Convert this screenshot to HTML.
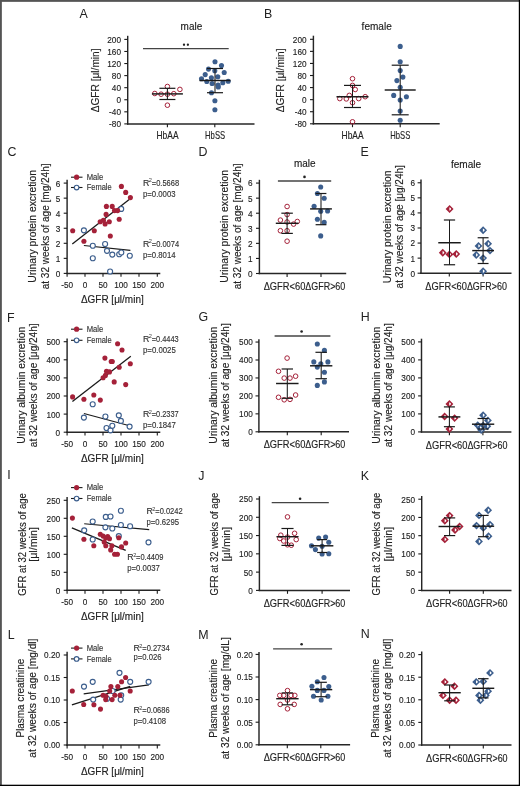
<!DOCTYPE html>
<html><head><meta charset="utf-8"><style>
html,body{margin:0;padding:0;background:#fff;width:520px;height:786px;overflow:hidden}
svg{display:block;will-change:transform;font-family:"Liberation Sans", sans-serif}
</style></head><body>
<svg width="520" height="786" viewBox="0 0 520 786">
<rect x="0" y="0" width="520" height="786" fill="#fff"/>
<text x="79.6" y="18.3" font-size="12.4" text-anchor="start" fill="#222">A</text>
<text x="191.4" y="29.7" font-size="10" text-anchor="middle" fill="#222" stroke="#222" stroke-width="0.14" textLength="21.6" lengthAdjust="spacingAndGlyphs">male</text>
<line x1="127.7" y1="35.8" x2="127.7" y2="124.6" stroke="#262626" stroke-width="1.45"/>
<line x1="124.3" y1="39.4" x2="127.7" y2="39.4" stroke="#1a1a1a" stroke-width="1.1"/>
<text x="121" y="42.8" font-size="9.8" text-anchor="end" fill="#222" stroke="#222" stroke-width="0.14" textLength="13.73" lengthAdjust="spacingAndGlyphs">200</text>
<line x1="124.3" y1="51.47" x2="127.7" y2="51.47" stroke="#1a1a1a" stroke-width="1.1"/>
<text x="121" y="54.87" font-size="9.8" text-anchor="end" fill="#222" stroke="#222" stroke-width="0.14" textLength="13.73" lengthAdjust="spacingAndGlyphs">160</text>
<line x1="124.3" y1="63.54" x2="127.7" y2="63.54" stroke="#1a1a1a" stroke-width="1.1"/>
<text x="121" y="66.94" font-size="9.8" text-anchor="end" fill="#222" stroke="#222" stroke-width="0.14" textLength="13.73" lengthAdjust="spacingAndGlyphs">120</text>
<line x1="124.3" y1="75.61" x2="127.7" y2="75.61" stroke="#1a1a1a" stroke-width="1.1"/>
<text x="121" y="79.01" font-size="9.8" text-anchor="end" fill="#222" stroke="#222" stroke-width="0.14" textLength="9.16" lengthAdjust="spacingAndGlyphs">80</text>
<line x1="124.3" y1="87.68" x2="127.7" y2="87.68" stroke="#1a1a1a" stroke-width="1.1"/>
<text x="121" y="91.08" font-size="9.8" text-anchor="end" fill="#222" stroke="#222" stroke-width="0.14" textLength="9.16" lengthAdjust="spacingAndGlyphs">40</text>
<line x1="124.3" y1="99.75" x2="127.7" y2="99.75" stroke="#1a1a1a" stroke-width="1.1"/>
<text x="121" y="103.15" font-size="9.8" text-anchor="end" fill="#222" stroke="#222" stroke-width="0.14" textLength="4.58" lengthAdjust="spacingAndGlyphs">0</text>
<line x1="124.3" y1="111.82" x2="127.7" y2="111.82" stroke="#1a1a1a" stroke-width="1.1"/>
<text x="121" y="115.22" font-size="9.8" text-anchor="end" fill="#222" stroke="#222" stroke-width="0.14" textLength="11.9" lengthAdjust="spacingAndGlyphs">-40</text>
<line x1="124.3" y1="123.89" x2="127.7" y2="123.89" stroke="#1a1a1a" stroke-width="1.1"/>
<text x="121" y="127.29" font-size="9.8" text-anchor="end" fill="#222" stroke="#222" stroke-width="0.14" textLength="11.9" lengthAdjust="spacingAndGlyphs">-80</text>
<line x1="127" y1="123.9" x2="254.5" y2="123.9" stroke="#262626" stroke-width="1.45"/>
<line x1="167.4" y1="123.9" x2="167.4" y2="127.3" stroke="#1a1a1a" stroke-width="1.1"/>
<line x1="214.8" y1="123.9" x2="214.8" y2="127.3" stroke="#1a1a1a" stroke-width="1.1"/>
<text x="167.5" y="138.8" font-size="10.3" text-anchor="middle" fill="#222" stroke="#222" stroke-width="0.14" textLength="22" lengthAdjust="spacingAndGlyphs">HbAA</text>
<text x="215.1" y="138.8" font-size="10.3" text-anchor="middle" fill="#222" stroke="#222" stroke-width="0.14" textLength="20" lengthAdjust="spacingAndGlyphs">HbSS</text>
<text transform="translate(98.6,80.4) rotate(-90)" font-size="10" text-anchor="middle" fill="#222" stroke="#222" stroke-width="0.14" textLength="63.8" lengthAdjust="spacingAndGlyphs">ΔGFR [μl/min]</text>
<line x1="143" y1="48.7" x2="228.7" y2="48.7" stroke="#444" stroke-width="1.3"/>
<circle cx="184" cy="44.75" r="1.15" fill="#222"/>
<circle cx="187.9" cy="44.75" r="1.15" fill="#222"/>
<circle cx="154.8" cy="93.5" r="2.3" fill="none" stroke="#a52139" stroke-width="1"/>
<circle cx="161.1" cy="94.2" r="2.3" fill="none" stroke="#a52139" stroke-width="1"/>
<circle cx="167.4" cy="86.5" r="2.3" fill="none" stroke="#a52139" stroke-width="1"/>
<circle cx="167.4" cy="94.2" r="2.3" fill="none" stroke="#a52139" stroke-width="1"/>
<circle cx="173.8" cy="93.7" r="2.3" fill="none" stroke="#a52139" stroke-width="1"/>
<circle cx="179.9" cy="89.4" r="2.3" fill="none" stroke="#a52139" stroke-width="1"/>
<circle cx="167.4" cy="105.2" r="2.3" fill="none" stroke="#a52139" stroke-width="1"/>
<line x1="167.4" y1="88.3" x2="167.4" y2="99.5" stroke="#1a1a1a" stroke-width="1.05"/>
<line x1="151.9" y1="93.9" x2="182.9" y2="93.9" stroke="#1a1a1a" stroke-width="1.45"/>
<line x1="159.4" y1="88.3" x2="175.4" y2="88.3" stroke="#1a1a1a" stroke-width="1.2"/>
<line x1="159.4" y1="99.5" x2="175.4" y2="99.5" stroke="#1a1a1a" stroke-width="1.2"/>
<circle cx="215" cy="61.7" r="2.55" fill="#3c5e8d"/>
<circle cx="221.5" cy="65.5" r="2.55" fill="#3c5e8d"/>
<circle cx="208.5" cy="69.1" r="2.55" fill="#3c5e8d"/>
<circle cx="214.8" cy="70.8" r="2.55" fill="#3c5e8d"/>
<circle cx="224.2" cy="72.5" r="2.55" fill="#3c5e8d"/>
<circle cx="205.2" cy="74.6" r="2.55" fill="#3c5e8d"/>
<circle cx="211.4" cy="77.7" r="2.55" fill="#3c5e8d"/>
<circle cx="217.8" cy="76.8" r="2.55" fill="#3c5e8d"/>
<circle cx="201.5" cy="78.8" r="2.55" fill="#3c5e8d"/>
<circle cx="206.8" cy="81.5" r="2.55" fill="#3c5e8d"/>
<circle cx="212.1" cy="83.5" r="2.55" fill="#3c5e8d"/>
<circle cx="218.1" cy="85" r="2.55" fill="#3c5e8d"/>
<circle cx="222.8" cy="82.7" r="2.55" fill="#3c5e8d"/>
<circle cx="228.2" cy="81.2" r="2.55" fill="#3c5e8d"/>
<circle cx="218.3" cy="87" r="2.55" fill="#3c5e8d"/>
<circle cx="211.5" cy="92.7" r="2.55" fill="#3c5e8d"/>
<circle cx="214.9" cy="100.7" r="2.55" fill="#3c5e8d"/>
<circle cx="214.9" cy="109.8" r="2.55" fill="#3c5e8d"/>
<line x1="215" y1="68.5" x2="215" y2="92.7" stroke="#1a1a1a" stroke-width="1.05"/>
<line x1="199.5" y1="80.5" x2="230.5" y2="80.5" stroke="#1a1a1a" stroke-width="1.45"/>
<line x1="207" y1="68.5" x2="223" y2="68.5" stroke="#1a1a1a" stroke-width="1.2"/>
<line x1="207" y1="92.7" x2="223" y2="92.7" stroke="#1a1a1a" stroke-width="1.2"/>
<text x="264" y="17.9" font-size="12.4" text-anchor="start" fill="#222">B</text>
<text x="376.7" y="30.3" font-size="10" text-anchor="middle" fill="#222" stroke="#222" stroke-width="0.14" textLength="30.2" lengthAdjust="spacingAndGlyphs">female</text>
<line x1="313.4" y1="35.7" x2="313.4" y2="124.5" stroke="#262626" stroke-width="1.45"/>
<line x1="310" y1="39.3" x2="313.4" y2="39.3" stroke="#1a1a1a" stroke-width="1.1"/>
<text x="306.6" y="42.7" font-size="9.8" text-anchor="end" fill="#222" stroke="#222" stroke-width="0.14" textLength="13.73" lengthAdjust="spacingAndGlyphs">200</text>
<line x1="310" y1="51.37" x2="313.4" y2="51.37" stroke="#1a1a1a" stroke-width="1.1"/>
<text x="306.6" y="54.77" font-size="9.8" text-anchor="end" fill="#222" stroke="#222" stroke-width="0.14" textLength="13.73" lengthAdjust="spacingAndGlyphs">160</text>
<line x1="310" y1="63.44" x2="313.4" y2="63.44" stroke="#1a1a1a" stroke-width="1.1"/>
<text x="306.6" y="66.84" font-size="9.8" text-anchor="end" fill="#222" stroke="#222" stroke-width="0.14" textLength="13.73" lengthAdjust="spacingAndGlyphs">120</text>
<line x1="310" y1="75.51" x2="313.4" y2="75.51" stroke="#1a1a1a" stroke-width="1.1"/>
<text x="306.6" y="78.91" font-size="9.8" text-anchor="end" fill="#222" stroke="#222" stroke-width="0.14" textLength="9.16" lengthAdjust="spacingAndGlyphs">80</text>
<line x1="310" y1="87.58" x2="313.4" y2="87.58" stroke="#1a1a1a" stroke-width="1.1"/>
<text x="306.6" y="90.98" font-size="9.8" text-anchor="end" fill="#222" stroke="#222" stroke-width="0.14" textLength="9.16" lengthAdjust="spacingAndGlyphs">40</text>
<line x1="310" y1="99.65" x2="313.4" y2="99.65" stroke="#1a1a1a" stroke-width="1.1"/>
<text x="306.6" y="103.05" font-size="9.8" text-anchor="end" fill="#222" stroke="#222" stroke-width="0.14" textLength="4.58" lengthAdjust="spacingAndGlyphs">0</text>
<line x1="310" y1="111.72" x2="313.4" y2="111.72" stroke="#1a1a1a" stroke-width="1.1"/>
<text x="306.6" y="115.12" font-size="9.8" text-anchor="end" fill="#222" stroke="#222" stroke-width="0.14" textLength="11.9" lengthAdjust="spacingAndGlyphs">-40</text>
<line x1="310" y1="123.79" x2="313.4" y2="123.79" stroke="#1a1a1a" stroke-width="1.1"/>
<text x="306.6" y="127.19" font-size="9.8" text-anchor="end" fill="#222" stroke="#222" stroke-width="0.14" textLength="11.9" lengthAdjust="spacingAndGlyphs">-80</text>
<line x1="312.7" y1="123.8" x2="439.7" y2="123.8" stroke="#262626" stroke-width="1.45"/>
<line x1="352.5" y1="123.8" x2="352.5" y2="127.2" stroke="#1a1a1a" stroke-width="1.1"/>
<line x1="400.2" y1="123.8" x2="400.2" y2="127.2" stroke="#1a1a1a" stroke-width="1.1"/>
<text x="352.6" y="138.8" font-size="10.3" text-anchor="middle" fill="#222" stroke="#222" stroke-width="0.14" textLength="22" lengthAdjust="spacingAndGlyphs">HbAA</text>
<text x="400.3" y="138.8" font-size="10.3" text-anchor="middle" fill="#222" stroke="#222" stroke-width="0.14" textLength="20" lengthAdjust="spacingAndGlyphs">HbSS</text>
<text transform="translate(284.3,80.4) rotate(-90)" font-size="10" text-anchor="middle" fill="#222" stroke="#222" stroke-width="0.14" textLength="63.8" lengthAdjust="spacingAndGlyphs">ΔGFR [μl/min]</text>
<circle cx="352.5" cy="78.7" r="2.3" fill="none" stroke="#a52139" stroke-width="1"/>
<circle cx="352.5" cy="85.4" r="2.3" fill="none" stroke="#a52139" stroke-width="1"/>
<circle cx="355.2" cy="89.5" r="2.3" fill="none" stroke="#a52139" stroke-width="1"/>
<circle cx="349.3" cy="95.4" r="2.3" fill="none" stroke="#a52139" stroke-width="1"/>
<circle cx="339.8" cy="98.6" r="2.3" fill="none" stroke="#a52139" stroke-width="1"/>
<circle cx="346.3" cy="98.9" r="2.3" fill="none" stroke="#a52139" stroke-width="1"/>
<circle cx="358.7" cy="98.6" r="2.3" fill="none" stroke="#a52139" stroke-width="1"/>
<circle cx="365.2" cy="96.7" r="2.3" fill="none" stroke="#a52139" stroke-width="1"/>
<circle cx="352.5" cy="102.7" r="2.3" fill="none" stroke="#a52139" stroke-width="1"/>
<circle cx="352.5" cy="121.8" r="2.3" fill="none" stroke="#a52139" stroke-width="1"/>
<line x1="352.5" y1="85.4" x2="352.5" y2="107.5" stroke="#1a1a1a" stroke-width="1.05"/>
<line x1="336.5" y1="96.7" x2="368.5" y2="96.7" stroke="#1a1a1a" stroke-width="1.45"/>
<line x1="344" y1="85.4" x2="361" y2="85.4" stroke="#1a1a1a" stroke-width="1.2"/>
<line x1="344" y1="107.5" x2="361" y2="107.5" stroke="#1a1a1a" stroke-width="1.2"/>
<circle cx="400.2" cy="46.4" r="2.55" fill="#3c5e8d"/>
<circle cx="400.2" cy="61.7" r="2.55" fill="#3c5e8d"/>
<circle cx="400.2" cy="70.6" r="2.55" fill="#3c5e8d"/>
<circle cx="402.9" cy="77.1" r="2.55" fill="#3c5e8d"/>
<circle cx="396.9" cy="80.6" r="2.55" fill="#3c5e8d"/>
<circle cx="400.2" cy="87.3" r="2.55" fill="#3c5e8d"/>
<circle cx="393.7" cy="95.4" r="2.55" fill="#3c5e8d"/>
<circle cx="406.4" cy="96.7" r="2.55" fill="#3c5e8d"/>
<circle cx="400.2" cy="100" r="2.55" fill="#3c5e8d"/>
<circle cx="400.2" cy="111" r="2.55" fill="#3c5e8d"/>
<circle cx="400.2" cy="120.2" r="2.55" fill="#3c5e8d"/>
<line x1="400.2" y1="65.2" x2="400.2" y2="114.8" stroke="#1a1a1a" stroke-width="1.05"/>
<line x1="384.7" y1="90" x2="415.7" y2="90" stroke="#1a1a1a" stroke-width="1.45"/>
<line x1="391.7" y1="65.2" x2="408.7" y2="65.2" stroke="#1a1a1a" stroke-width="1.2"/>
<line x1="391.7" y1="114.8" x2="408.7" y2="114.8" stroke="#1a1a1a" stroke-width="1.2"/>
<text x="7.4" y="156.2" font-size="12.4" text-anchor="start" fill="#222">C</text>
<line x1="67.1" y1="179.8" x2="67.1" y2="274.1" stroke="#262626" stroke-width="1.45"/>
<line x1="63.7" y1="183.1" x2="67.1" y2="183.1" stroke="#1a1a1a" stroke-width="1.1"/>
<text x="60.3" y="186.5" font-size="9.8" text-anchor="end" fill="#222" stroke="#222" stroke-width="0.14" textLength="4.58" lengthAdjust="spacingAndGlyphs">6</text>
<line x1="63.7" y1="198.15" x2="67.1" y2="198.15" stroke="#1a1a1a" stroke-width="1.1"/>
<text x="60.3" y="201.55" font-size="9.8" text-anchor="end" fill="#222" stroke="#222" stroke-width="0.14" textLength="4.58" lengthAdjust="spacingAndGlyphs">5</text>
<line x1="63.7" y1="213.2" x2="67.1" y2="213.2" stroke="#1a1a1a" stroke-width="1.1"/>
<text x="60.3" y="216.6" font-size="9.8" text-anchor="end" fill="#222" stroke="#222" stroke-width="0.14" textLength="4.58" lengthAdjust="spacingAndGlyphs">4</text>
<line x1="63.7" y1="228.25" x2="67.1" y2="228.25" stroke="#1a1a1a" stroke-width="1.1"/>
<text x="60.3" y="231.65" font-size="9.8" text-anchor="end" fill="#222" stroke="#222" stroke-width="0.14" textLength="4.58" lengthAdjust="spacingAndGlyphs">3</text>
<line x1="63.7" y1="243.3" x2="67.1" y2="243.3" stroke="#1a1a1a" stroke-width="1.1"/>
<text x="60.3" y="246.7" font-size="9.8" text-anchor="end" fill="#222" stroke="#222" stroke-width="0.14" textLength="4.58" lengthAdjust="spacingAndGlyphs">2</text>
<line x1="63.7" y1="258.35" x2="67.1" y2="258.35" stroke="#1a1a1a" stroke-width="1.1"/>
<text x="60.3" y="261.75" font-size="9.8" text-anchor="end" fill="#222" stroke="#222" stroke-width="0.14" textLength="4.58" lengthAdjust="spacingAndGlyphs">1</text>
<line x1="63.7" y1="273.4" x2="67.1" y2="273.4" stroke="#1a1a1a" stroke-width="1.1"/>
<text x="60.3" y="276.8" font-size="9.8" text-anchor="end" fill="#222" stroke="#222" stroke-width="0.14" textLength="4.58" lengthAdjust="spacingAndGlyphs">0</text>
<line x1="66.4" y1="273.4" x2="160.3" y2="273.4" stroke="#262626" stroke-width="1.45"/>
<line x1="67.1" y1="273.4" x2="67.1" y2="276.8" stroke="#1a1a1a" stroke-width="1.1"/>
<text x="67.1" y="287.9" font-size="9.8" text-anchor="middle" fill="#222" stroke="#222" stroke-width="0.14" textLength="11.9" lengthAdjust="spacingAndGlyphs">-50</text>
<line x1="85" y1="273.4" x2="85" y2="276.8" stroke="#1a1a1a" stroke-width="1.1"/>
<text x="85" y="287.9" font-size="9.8" text-anchor="middle" fill="#222" stroke="#222" stroke-width="0.14" textLength="4.58" lengthAdjust="spacingAndGlyphs">0</text>
<line x1="103" y1="273.4" x2="103" y2="276.8" stroke="#1a1a1a" stroke-width="1.1"/>
<text x="103" y="287.9" font-size="9.8" text-anchor="middle" fill="#222" stroke="#222" stroke-width="0.14" textLength="9.16" lengthAdjust="spacingAndGlyphs">50</text>
<line x1="121" y1="273.4" x2="121" y2="276.8" stroke="#1a1a1a" stroke-width="1.1"/>
<text x="121" y="287.9" font-size="9.8" text-anchor="middle" fill="#222" stroke="#222" stroke-width="0.14" textLength="13.73" lengthAdjust="spacingAndGlyphs">100</text>
<line x1="139" y1="273.4" x2="139" y2="276.8" stroke="#1a1a1a" stroke-width="1.1"/>
<text x="139" y="287.9" font-size="9.8" text-anchor="middle" fill="#222" stroke="#222" stroke-width="0.14" textLength="13.73" lengthAdjust="spacingAndGlyphs">150</text>
<line x1="157.3" y1="273.4" x2="157.3" y2="276.8" stroke="#1a1a1a" stroke-width="1.1"/>
<text x="157.3" y="287.9" font-size="9.8" text-anchor="middle" fill="#222" stroke="#222" stroke-width="0.14" textLength="13.73" lengthAdjust="spacingAndGlyphs">200</text>
<text x="112.3" y="303.2" font-size="10" text-anchor="middle" fill="#222" stroke="#222" stroke-width="0.14" textLength="62.8" lengthAdjust="spacingAndGlyphs">ΔGFR [μl/min]</text>
<text transform="translate(36.4,226.4) rotate(-90)" font-size="10.5" text-anchor="middle" fill="#222" stroke="#222" stroke-width="0.14" textLength="112.6" lengthAdjust="spacingAndGlyphs">Urinary protein excretion</text>
<text transform="translate(49,226.4) rotate(-90)" font-size="10.5" text-anchor="middle" fill="#222" stroke="#222" stroke-width="0.14" textLength="125.8" lengthAdjust="spacingAndGlyphs">at 32 weeks of age [mg/24h]</text>
<line x1="71" y1="177.2" x2="82.5" y2="177.2" stroke="#1a1a1a" stroke-width="1.1"/>
<circle cx="76.6" cy="177.2" r="2.6" fill="#a52139"/>
<text x="86.7" y="179.6" font-size="8.9" text-anchor="start" fill="#333" stroke="#333" stroke-width="0.14" textLength="16.6" lengthAdjust="spacingAndGlyphs">Male</text>
<line x1="71" y1="187.5" x2="82.5" y2="187.5" stroke="#1a1a1a" stroke-width="1.1"/>
<circle cx="76.6" cy="187.5" r="2.3" fill="#fff" stroke="#3c5e8d" stroke-width="1.15"/>
<text x="86.7" y="190.3" font-size="8.9" text-anchor="start" fill="#333" stroke="#333" stroke-width="0.14" textLength="25" lengthAdjust="spacingAndGlyphs">Female</text>
<line x1="72.3" y1="244" x2="129.2" y2="199.6" stroke="#1a1a1a" stroke-width="1.3"/>
<line x1="83.9" y1="245.5" x2="130.4" y2="250.4" stroke="#1a1a1a" stroke-width="1.1"/>
<circle cx="83.9" cy="230.3" r="2.5" fill="#fff" stroke="#3c5e8d" stroke-width="1.15"/>
<circle cx="92.8" cy="245.7" r="2.5" fill="#fff" stroke="#3c5e8d" stroke-width="1.15"/>
<circle cx="92.8" cy="258.2" r="2.5" fill="#fff" stroke="#3c5e8d" stroke-width="1.15"/>
<circle cx="105.1" cy="244" r="2.5" fill="#fff" stroke="#3c5e8d" stroke-width="1.15"/>
<circle cx="107" cy="250.8" r="2.5" fill="#fff" stroke="#3c5e8d" stroke-width="1.15"/>
<circle cx="112.3" cy="254.6" r="2.5" fill="#fff" stroke="#3c5e8d" stroke-width="1.15"/>
<circle cx="119.2" cy="254.2" r="2.5" fill="#fff" stroke="#3c5e8d" stroke-width="1.15"/>
<circle cx="121.3" cy="252.5" r="2.5" fill="#fff" stroke="#3c5e8d" stroke-width="1.15"/>
<circle cx="129.8" cy="255.7" r="2.5" fill="#fff" stroke="#3c5e8d" stroke-width="1.15"/>
<circle cx="121.2" cy="208.9" r="2.5" fill="#fff" stroke="#3c5e8d" stroke-width="1.15"/>
<circle cx="110.1" cy="271.5" r="2.5" fill="#fff" stroke="#3c5e8d" stroke-width="1.15"/>
<circle cx="72.7" cy="230.7" r="2.55" fill="#a52139"/>
<circle cx="83.9" cy="241.3" r="2.55" fill="#a52139"/>
<circle cx="94.3" cy="230.7" r="2.55" fill="#a52139"/>
<circle cx="100.2" cy="221.8" r="2.55" fill="#a52139"/>
<circle cx="103.4" cy="220.3" r="2.55" fill="#a52139"/>
<circle cx="105.1" cy="223.9" r="2.55" fill="#a52139"/>
<circle cx="109.3" cy="221.8" r="2.55" fill="#a52139"/>
<circle cx="106.1" cy="214.4" r="2.55" fill="#a52139"/>
<circle cx="106.4" cy="206.4" r="2.55" fill="#a52139"/>
<circle cx="112.2" cy="206.4" r="2.55" fill="#a52139"/>
<circle cx="114.5" cy="210.6" r="2.55" fill="#a52139"/>
<circle cx="117.6" cy="210.6" r="2.55" fill="#a52139"/>
<circle cx="119.2" cy="219.3" r="2.55" fill="#a52139"/>
<circle cx="110.3" cy="236" r="2.55" fill="#a52139"/>
<circle cx="121.4" cy="186.4" r="2.55" fill="#a52139"/>
<circle cx="125.7" cy="192.4" r="2.55" fill="#a52139"/>
<circle cx="130.4" cy="197.6" r="2.55" fill="#a52139"/>
<text x="143" y="185.7" font-size="8.8" fill="#333" stroke="#333" stroke-width="0.14">R</text>
<text x="148.86" y="182.3" font-size="5.6" fill="#333">2</text>
<text x="151.76" y="185.7" font-size="8.8" fill="#333" stroke="#333" stroke-width="0.14" textLength="27.34" lengthAdjust="spacingAndGlyphs">=0.5668</text>
<text x="143" y="196.9" font-size="8.8" text-anchor="start" fill="#333" stroke="#333" stroke-width="0.14" textLength="32.5" lengthAdjust="spacingAndGlyphs">p=0.0003</text>
<text x="143" y="246.8" font-size="8.8" fill="#333" stroke="#333" stroke-width="0.14">R</text>
<text x="148.86" y="243.4" font-size="5.6" fill="#333">2</text>
<text x="151.76" y="246.8" font-size="8.8" fill="#333" stroke="#333" stroke-width="0.14" textLength="27.34" lengthAdjust="spacingAndGlyphs">=0.0074</text>
<text x="143" y="257.7" font-size="8.8" text-anchor="start" fill="#333" stroke="#333" stroke-width="0.14" textLength="32.5" lengthAdjust="spacingAndGlyphs">p=0.8014</text>
<text x="198.6" y="155.8" font-size="12.4" text-anchor="start" fill="#222">D</text>
<text x="304.8" y="167.4" font-size="10" text-anchor="middle" fill="#222" stroke="#222" stroke-width="0.14" textLength="21.6" lengthAdjust="spacingAndGlyphs">male</text>
<line x1="259.4" y1="179.8" x2="259.4" y2="274.2" stroke="#262626" stroke-width="1.45"/>
<line x1="256" y1="183.08" x2="259.4" y2="183.08" stroke="#1a1a1a" stroke-width="1.1"/>
<text x="252.7" y="186.48" font-size="9.8" text-anchor="end" fill="#222" stroke="#222" stroke-width="0.14" textLength="4.58" lengthAdjust="spacingAndGlyphs">6</text>
<line x1="256" y1="198.15" x2="259.4" y2="198.15" stroke="#1a1a1a" stroke-width="1.1"/>
<text x="252.7" y="201.55" font-size="9.8" text-anchor="end" fill="#222" stroke="#222" stroke-width="0.14" textLength="4.58" lengthAdjust="spacingAndGlyphs">5</text>
<line x1="256" y1="213.22" x2="259.4" y2="213.22" stroke="#1a1a1a" stroke-width="1.1"/>
<text x="252.7" y="216.62" font-size="9.8" text-anchor="end" fill="#222" stroke="#222" stroke-width="0.14" textLength="4.58" lengthAdjust="spacingAndGlyphs">4</text>
<line x1="256" y1="228.29" x2="259.4" y2="228.29" stroke="#1a1a1a" stroke-width="1.1"/>
<text x="252.7" y="231.69" font-size="9.8" text-anchor="end" fill="#222" stroke="#222" stroke-width="0.14" textLength="4.58" lengthAdjust="spacingAndGlyphs">3</text>
<line x1="256" y1="243.36" x2="259.4" y2="243.36" stroke="#1a1a1a" stroke-width="1.1"/>
<text x="252.7" y="246.76" font-size="9.8" text-anchor="end" fill="#222" stroke="#222" stroke-width="0.14" textLength="4.58" lengthAdjust="spacingAndGlyphs">2</text>
<line x1="256" y1="258.43" x2="259.4" y2="258.43" stroke="#1a1a1a" stroke-width="1.1"/>
<text x="252.7" y="261.83" font-size="9.8" text-anchor="end" fill="#222" stroke="#222" stroke-width="0.14" textLength="4.58" lengthAdjust="spacingAndGlyphs">1</text>
<line x1="256" y1="273.5" x2="259.4" y2="273.5" stroke="#1a1a1a" stroke-width="1.1"/>
<text x="252.7" y="276.9" font-size="9.8" text-anchor="end" fill="#222" stroke="#222" stroke-width="0.14" textLength="4.58" lengthAdjust="spacingAndGlyphs">0</text>
<line x1="258.7" y1="273.5" x2="346.2" y2="273.5" stroke="#262626" stroke-width="1.45"/>
<line x1="287.1" y1="273.5" x2="287.1" y2="276.9" stroke="#1a1a1a" stroke-width="1.1"/>
<line x1="321" y1="273.5" x2="321" y2="276.9" stroke="#1a1a1a" stroke-width="1.1"/>
<text x="284.5" y="290.1" font-size="10.6" text-anchor="middle" fill="#222" stroke="#222" stroke-width="0.14" textLength="41.7" lengthAdjust="spacingAndGlyphs">ΔGFR&lt;60</text>
<text x="325.3" y="290.1" font-size="10.6" text-anchor="middle" fill="#222" stroke="#222" stroke-width="0.14" textLength="40" lengthAdjust="spacingAndGlyphs">ΔGFR&gt;60</text>
<text transform="translate(228.4,226.4) rotate(-90)" font-size="10.5" text-anchor="middle" fill="#222" stroke="#222" stroke-width="0.14" textLength="112.7" lengthAdjust="spacingAndGlyphs">Urinary protein excretion</text>
<text transform="translate(240.7,226.4) rotate(-90)" font-size="10.5" text-anchor="middle" fill="#222" stroke="#222" stroke-width="0.14" textLength="125.9" lengthAdjust="spacingAndGlyphs">at 32 weeks of age [mg/24h]</text>
<line x1="277.9" y1="181" x2="331.2" y2="181" stroke="#444" stroke-width="1.3"/>
<circle cx="304.5" cy="176.9" r="1.3" fill="#222"/>
<circle cx="287.1" cy="206.5" r="2.3" fill="none" stroke="#a52139" stroke-width="1"/>
<circle cx="287.1" cy="214.6" r="2.3" fill="none" stroke="#a52139" stroke-width="1"/>
<circle cx="280.4" cy="220.1" r="2.3" fill="none" stroke="#a52139" stroke-width="1"/>
<circle cx="287.1" cy="222" r="2.3" fill="none" stroke="#a52139" stroke-width="1"/>
<circle cx="293.6" cy="224.1" r="2.3" fill="none" stroke="#a52139" stroke-width="1"/>
<circle cx="297.3" cy="221.5" r="2.3" fill="none" stroke="#a52139" stroke-width="1"/>
<circle cx="280.4" cy="230.7" r="2.3" fill="none" stroke="#a52139" stroke-width="1"/>
<circle cx="287.1" cy="230.7" r="2.3" fill="none" stroke="#a52139" stroke-width="1"/>
<circle cx="287.1" cy="241.2" r="2.3" fill="none" stroke="#a52139" stroke-width="1"/>
<line x1="287.1" y1="213.2" x2="287.1" y2="233.4" stroke="#1a1a1a" stroke-width="1.05"/>
<line x1="275.8" y1="223.3" x2="298.4" y2="223.3" stroke="#1a1a1a" stroke-width="1.45"/>
<line x1="281.35" y1="213.2" x2="292.85" y2="213.2" stroke="#1a1a1a" stroke-width="1.2"/>
<line x1="281.35" y1="233.4" x2="292.85" y2="233.4" stroke="#1a1a1a" stroke-width="1.2"/>
<circle cx="320.7" cy="187" r="2.55" fill="#3c5e8d"/>
<circle cx="317.4" cy="193.5" r="2.55" fill="#3c5e8d"/>
<circle cx="324.2" cy="198.2" r="2.55" fill="#3c5e8d"/>
<circle cx="314.1" cy="206.2" r="2.55" fill="#3c5e8d"/>
<circle cx="320.7" cy="211.2" r="2.55" fill="#3c5e8d"/>
<circle cx="327.6" cy="211" r="2.55" fill="#3c5e8d"/>
<circle cx="317.4" cy="219.3" r="2.55" fill="#3c5e8d"/>
<circle cx="324.2" cy="222.4" r="2.55" fill="#3c5e8d"/>
<circle cx="320.7" cy="235.9" r="2.55" fill="#3c5e8d"/>
<line x1="321" y1="193.5" x2="321" y2="224.7" stroke="#1a1a1a" stroke-width="1.05"/>
<line x1="310.1" y1="208.9" x2="331.9" y2="208.9" stroke="#1a1a1a" stroke-width="1.45"/>
<line x1="315.6" y1="193.5" x2="326.4" y2="193.5" stroke="#1a1a1a" stroke-width="1.2"/>
<line x1="315.6" y1="224.7" x2="326.4" y2="224.7" stroke="#1a1a1a" stroke-width="1.2"/>
<text x="360.6" y="155.8" font-size="12.4" text-anchor="start" fill="#222">E</text>
<text x="466" y="167.5" font-size="10" text-anchor="middle" fill="#222" stroke="#222" stroke-width="0.14" textLength="30.2" lengthAdjust="spacingAndGlyphs">female</text>
<line x1="421" y1="179.5" x2="421" y2="273.9" stroke="#262626" stroke-width="1.45"/>
<line x1="417.6" y1="182.78" x2="421" y2="182.78" stroke="#1a1a1a" stroke-width="1.1"/>
<text x="415.1" y="186.18" font-size="9.8" text-anchor="end" fill="#222" stroke="#222" stroke-width="0.14" textLength="4.58" lengthAdjust="spacingAndGlyphs">6</text>
<line x1="417.6" y1="197.85" x2="421" y2="197.85" stroke="#1a1a1a" stroke-width="1.1"/>
<text x="415.1" y="201.25" font-size="9.8" text-anchor="end" fill="#222" stroke="#222" stroke-width="0.14" textLength="4.58" lengthAdjust="spacingAndGlyphs">5</text>
<line x1="417.6" y1="212.92" x2="421" y2="212.92" stroke="#1a1a1a" stroke-width="1.1"/>
<text x="415.1" y="216.32" font-size="9.8" text-anchor="end" fill="#222" stroke="#222" stroke-width="0.14" textLength="4.58" lengthAdjust="spacingAndGlyphs">4</text>
<line x1="417.6" y1="227.99" x2="421" y2="227.99" stroke="#1a1a1a" stroke-width="1.1"/>
<text x="415.1" y="231.39" font-size="9.8" text-anchor="end" fill="#222" stroke="#222" stroke-width="0.14" textLength="4.58" lengthAdjust="spacingAndGlyphs">3</text>
<line x1="417.6" y1="243.06" x2="421" y2="243.06" stroke="#1a1a1a" stroke-width="1.1"/>
<text x="415.1" y="246.46" font-size="9.8" text-anchor="end" fill="#222" stroke="#222" stroke-width="0.14" textLength="4.58" lengthAdjust="spacingAndGlyphs">2</text>
<line x1="417.6" y1="258.13" x2="421" y2="258.13" stroke="#1a1a1a" stroke-width="1.1"/>
<text x="415.1" y="261.53" font-size="9.8" text-anchor="end" fill="#222" stroke="#222" stroke-width="0.14" textLength="4.58" lengthAdjust="spacingAndGlyphs">1</text>
<line x1="417.6" y1="273.2" x2="421" y2="273.2" stroke="#1a1a1a" stroke-width="1.1"/>
<text x="415.1" y="276.6" font-size="9.8" text-anchor="end" fill="#222" stroke="#222" stroke-width="0.14" textLength="4.58" lengthAdjust="spacingAndGlyphs">0</text>
<line x1="420.3" y1="273.2" x2="511.5" y2="273.2" stroke="#262626" stroke-width="1.45"/>
<line x1="449.3" y1="273.2" x2="449.3" y2="276.6" stroke="#1a1a1a" stroke-width="1.1"/>
<line x1="483.1" y1="273.2" x2="483.1" y2="276.6" stroke="#1a1a1a" stroke-width="1.1"/>
<text x="446.1" y="289.8" font-size="10.6" text-anchor="middle" fill="#222" stroke="#222" stroke-width="0.14" textLength="41.7" lengthAdjust="spacingAndGlyphs">ΔGFR&lt;60</text>
<text x="486.9" y="289.8" font-size="10.6" text-anchor="middle" fill="#222" stroke="#222" stroke-width="0.14" textLength="40" lengthAdjust="spacingAndGlyphs">ΔGFR&gt;60</text>
<text transform="translate(390.7,226.8) rotate(-90)" font-size="10.5" text-anchor="middle" fill="#222" stroke="#222" stroke-width="0.14" textLength="112.7" lengthAdjust="spacingAndGlyphs">Urinary protein excretion</text>
<text transform="translate(402.8,226.8) rotate(-90)" font-size="10.5" text-anchor="middle" fill="#222" stroke="#222" stroke-width="0.14" textLength="123.3" lengthAdjust="spacingAndGlyphs">at 32 weeks of age [μg/24h]</text>
<path d="M449.6 205.05L453.55 209L449.6 212.95L445.65 209Z" fill="#a52139"/>
<path d="M449.4 207.3Q453 209 449.4 210.7Z" fill="#fff"/>
<path d="M442.75 248.8L446.7 252.75L442.75 256.7L438.8 252.75Z" fill="#a52139"/>
<path d="M442.55 251.05Q446.15 252.75 442.55 254.45Z" fill="#fff"/>
<path d="M449.4 250.45L453.35 254.4L449.4 258.35L445.45 254.4Z" fill="#a52139"/>
<path d="M449.2 252.7Q452.8 254.4 449.2 256.1Z" fill="#fff"/>
<path d="M456.25 250.05L460.2 254L456.25 257.95L452.3 254Z" fill="#a52139"/>
<path d="M456.05 252.3Q459.65 254 456.05 255.7Z" fill="#fff"/>
<line x1="449.5" y1="220" x2="449.5" y2="264.75" stroke="#1a1a1a" stroke-width="1.05"/>
<line x1="438.25" y1="242.75" x2="460.75" y2="242.75" stroke="#1a1a1a" stroke-width="1.45"/>
<line x1="443.88" y1="220" x2="455.12" y2="220" stroke="#1a1a1a" stroke-width="1.2"/>
<line x1="443.88" y1="264.75" x2="455.12" y2="264.75" stroke="#1a1a1a" stroke-width="1.2"/>
<path d="M483.1 226.3L487.05 230.25L483.1 234.2L479.15 230.25Z" fill="#3c5e8d"/>
<path d="M482.9 228.55Q486.5 230.25 482.9 231.95Z" fill="#fff"/>
<path d="M478.5 241.95L482.45 245.9L478.5 249.85L474.55 245.9Z" fill="#3c5e8d"/>
<path d="M478.3 244.2Q481.9 245.9 478.3 247.6Z" fill="#fff"/>
<path d="M488.1 239.8L492.05 243.75L488.1 247.7L484.15 243.75Z" fill="#3c5e8d"/>
<path d="M487.9 242.05Q491.5 243.75 487.9 245.45Z" fill="#fff"/>
<path d="M490 246.65L493.95 250.6L490 254.55L486.05 250.6Z" fill="#3c5e8d"/>
<path d="M489.8 248.9Q493.4 250.6 489.8 252.3Z" fill="#fff"/>
<path d="M476.25 251.05L480.2 255L476.25 258.95L472.3 255Z" fill="#3c5e8d"/>
<path d="M476.05 253.3Q479.65 255 476.05 256.7Z" fill="#fff"/>
<path d="M483.1 254.15L487.05 258.1L483.1 262.05L479.15 258.1Z" fill="#3c5e8d"/>
<path d="M482.9 256.4Q486.5 258.1 482.9 259.8Z" fill="#fff"/>
<path d="M483.1 267.3L487.05 271.25L483.1 275.2L479.15 271.25Z" fill="#3c5e8d"/>
<path d="M482.9 269.55Q486.5 271.25 482.9 272.95Z" fill="#fff"/>
<line x1="483.1" y1="237.75" x2="483.1" y2="263.5" stroke="#1a1a1a" stroke-width="1.05"/>
<line x1="472.23" y1="250.6" x2="493.98" y2="250.6" stroke="#1a1a1a" stroke-width="1.45"/>
<line x1="477.65" y1="237.75" x2="488.55" y2="237.75" stroke="#1a1a1a" stroke-width="1.2"/>
<line x1="477.65" y1="263.5" x2="488.55" y2="263.5" stroke="#1a1a1a" stroke-width="1.2"/>
<text x="7" y="321.8" font-size="12.4" text-anchor="start" fill="#222">F</text>
<line x1="67.1" y1="338.4" x2="67.1" y2="432.9" stroke="#262626" stroke-width="1.45"/>
<line x1="63.7" y1="341.7" x2="67.1" y2="341.7" stroke="#1a1a1a" stroke-width="1.1"/>
<text x="60.2" y="345.1" font-size="9.8" text-anchor="end" fill="#222" stroke="#222" stroke-width="0.14" textLength="13.73" lengthAdjust="spacingAndGlyphs">500</text>
<line x1="63.7" y1="359.8" x2="67.1" y2="359.8" stroke="#1a1a1a" stroke-width="1.1"/>
<text x="60.2" y="363.2" font-size="9.8" text-anchor="end" fill="#222" stroke="#222" stroke-width="0.14" textLength="13.73" lengthAdjust="spacingAndGlyphs">400</text>
<line x1="63.7" y1="377.9" x2="67.1" y2="377.9" stroke="#1a1a1a" stroke-width="1.1"/>
<text x="60.2" y="381.3" font-size="9.8" text-anchor="end" fill="#222" stroke="#222" stroke-width="0.14" textLength="13.73" lengthAdjust="spacingAndGlyphs">300</text>
<line x1="63.7" y1="396" x2="67.1" y2="396" stroke="#1a1a1a" stroke-width="1.1"/>
<text x="60.2" y="399.4" font-size="9.8" text-anchor="end" fill="#222" stroke="#222" stroke-width="0.14" textLength="13.73" lengthAdjust="spacingAndGlyphs">200</text>
<line x1="63.7" y1="414.1" x2="67.1" y2="414.1" stroke="#1a1a1a" stroke-width="1.1"/>
<text x="60.2" y="417.5" font-size="9.8" text-anchor="end" fill="#222" stroke="#222" stroke-width="0.14" textLength="13.73" lengthAdjust="spacingAndGlyphs">100</text>
<line x1="63.7" y1="432.2" x2="67.1" y2="432.2" stroke="#1a1a1a" stroke-width="1.1"/>
<text x="60.2" y="435.6" font-size="9.8" text-anchor="end" fill="#222" stroke="#222" stroke-width="0.14" textLength="4.58" lengthAdjust="spacingAndGlyphs">0</text>
<line x1="66.4" y1="432.2" x2="160.3" y2="432.2" stroke="#262626" stroke-width="1.45"/>
<line x1="67.1" y1="432.2" x2="67.1" y2="435.6" stroke="#1a1a1a" stroke-width="1.1"/>
<text x="67.1" y="446.7" font-size="9.8" text-anchor="middle" fill="#222" stroke="#222" stroke-width="0.14" textLength="11.9" lengthAdjust="spacingAndGlyphs">-50</text>
<line x1="85" y1="432.2" x2="85" y2="435.6" stroke="#1a1a1a" stroke-width="1.1"/>
<text x="85" y="446.7" font-size="9.8" text-anchor="middle" fill="#222" stroke="#222" stroke-width="0.14" textLength="4.58" lengthAdjust="spacingAndGlyphs">0</text>
<line x1="103" y1="432.2" x2="103" y2="435.6" stroke="#1a1a1a" stroke-width="1.1"/>
<text x="103" y="446.7" font-size="9.8" text-anchor="middle" fill="#222" stroke="#222" stroke-width="0.14" textLength="9.16" lengthAdjust="spacingAndGlyphs">50</text>
<line x1="121" y1="432.2" x2="121" y2="435.6" stroke="#1a1a1a" stroke-width="1.1"/>
<text x="121" y="446.7" font-size="9.8" text-anchor="middle" fill="#222" stroke="#222" stroke-width="0.14" textLength="13.73" lengthAdjust="spacingAndGlyphs">100</text>
<line x1="139" y1="432.2" x2="139" y2="435.6" stroke="#1a1a1a" stroke-width="1.1"/>
<text x="139" y="446.7" font-size="9.8" text-anchor="middle" fill="#222" stroke="#222" stroke-width="0.14" textLength="13.73" lengthAdjust="spacingAndGlyphs">150</text>
<line x1="157.3" y1="432.2" x2="157.3" y2="435.6" stroke="#1a1a1a" stroke-width="1.1"/>
<text x="157.3" y="446.7" font-size="9.8" text-anchor="middle" fill="#222" stroke="#222" stroke-width="0.14" textLength="13.73" lengthAdjust="spacingAndGlyphs">200</text>
<text x="112.3" y="462" font-size="10" text-anchor="middle" fill="#222" stroke="#222" stroke-width="0.14" textLength="62.8" lengthAdjust="spacingAndGlyphs">ΔGFR [μl/min]</text>
<text transform="translate(25.4,385.3) rotate(-90)" font-size="10.5" text-anchor="middle" fill="#222" stroke="#222" stroke-width="0.14" textLength="117" lengthAdjust="spacingAndGlyphs">Urinary albumin excretion</text>
<text transform="translate(36.9,385.3) rotate(-90)" font-size="10.5" text-anchor="middle" fill="#222" stroke="#222" stroke-width="0.14" textLength="123.8" lengthAdjust="spacingAndGlyphs">at 32 weeks of age [μg/24h]</text>
<line x1="71" y1="329.2" x2="82.5" y2="329.2" stroke="#1a1a1a" stroke-width="1.1"/>
<circle cx="76.6" cy="329.2" r="2.6" fill="#a52139"/>
<text x="86.7" y="331.6" font-size="8.9" text-anchor="start" fill="#333" stroke="#333" stroke-width="0.14" textLength="16.6" lengthAdjust="spacingAndGlyphs">Male</text>
<line x1="71" y1="340.3" x2="82.5" y2="340.3" stroke="#1a1a1a" stroke-width="1.1"/>
<circle cx="76.6" cy="340.3" r="2.3" fill="#fff" stroke="#3c5e8d" stroke-width="1.15"/>
<text x="86.7" y="343.1" font-size="8.9" text-anchor="start" fill="#333" stroke="#333" stroke-width="0.14" textLength="25" lengthAdjust="spacingAndGlyphs">Female</text>
<line x1="72.4" y1="401.5" x2="130.8" y2="356.2" stroke="#1a1a1a" stroke-width="1.3"/>
<line x1="83.9" y1="413.5" x2="129.6" y2="425.7" stroke="#1a1a1a" stroke-width="1.1"/>
<circle cx="83.9" cy="417.6" r="2.5" fill="#fff" stroke="#3c5e8d" stroke-width="1.15"/>
<circle cx="92.7" cy="404.2" r="2.5" fill="#fff" stroke="#3c5e8d" stroke-width="1.15"/>
<circle cx="105.4" cy="416.5" r="2.5" fill="#fff" stroke="#3c5e8d" stroke-width="1.15"/>
<circle cx="106.5" cy="428" r="2.5" fill="#fff" stroke="#3c5e8d" stroke-width="1.15"/>
<circle cx="110.5" cy="430.3" r="2.5" fill="#fff" stroke="#3c5e8d" stroke-width="1.15"/>
<circle cx="112.3" cy="425.7" r="2.5" fill="#fff" stroke="#3c5e8d" stroke-width="1.15"/>
<circle cx="118.8" cy="415.3" r="2.5" fill="#fff" stroke="#3c5e8d" stroke-width="1.15"/>
<circle cx="120.9" cy="420.9" r="2.5" fill="#fff" stroke="#3c5e8d" stroke-width="1.15"/>
<circle cx="129.6" cy="426.6" r="2.5" fill="#fff" stroke="#3c5e8d" stroke-width="1.15"/>
<circle cx="72.6" cy="396.9" r="2.55" fill="#a52139"/>
<circle cx="83.9" cy="399.2" r="2.55" fill="#a52139"/>
<circle cx="93.8" cy="395" r="2.55" fill="#a52139"/>
<circle cx="100.3" cy="400.1" r="2.55" fill="#a52139"/>
<circle cx="103.1" cy="377.7" r="2.55" fill="#a52139"/>
<circle cx="105.4" cy="375.4" r="2.55" fill="#a52139"/>
<circle cx="106.5" cy="371.2" r="2.55" fill="#a52139"/>
<circle cx="109.5" cy="371.9" r="2.55" fill="#a52139"/>
<circle cx="104.9" cy="358.1" r="2.55" fill="#a52139"/>
<circle cx="111.2" cy="361.5" r="2.55" fill="#a52139"/>
<circle cx="112.3" cy="361.5" r="2.55" fill="#a52139"/>
<circle cx="114.2" cy="381.9" r="2.55" fill="#a52139"/>
<circle cx="119.2" cy="367.3" r="2.55" fill="#a52139"/>
<circle cx="117.6" cy="343.8" r="2.55" fill="#a52139"/>
<circle cx="122" cy="350" r="2.55" fill="#a52139"/>
<circle cx="125.7" cy="384.6" r="2.55" fill="#a52139"/>
<circle cx="130.3" cy="363.8" r="2.55" fill="#a52139"/>
<text x="143" y="341.7" font-size="8.8" fill="#333" stroke="#333" stroke-width="0.14">R</text>
<text x="148.86" y="338.3" font-size="5.6" fill="#333">2</text>
<text x="151.76" y="341.7" font-size="8.8" fill="#333" stroke="#333" stroke-width="0.14" textLength="26.94" lengthAdjust="spacingAndGlyphs">=0.4443</text>
<text x="143" y="352.7" font-size="8.8" text-anchor="start" fill="#333" stroke="#333" stroke-width="0.14" textLength="32.8" lengthAdjust="spacingAndGlyphs">p=0.0025</text>
<text x="143" y="417.4" font-size="8.8" fill="#333" stroke="#333" stroke-width="0.14">R</text>
<text x="148.86" y="414" font-size="5.6" fill="#333">2</text>
<text x="151.76" y="417.4" font-size="8.8" fill="#333" stroke="#333" stroke-width="0.14" textLength="26.94" lengthAdjust="spacingAndGlyphs">=0.2337</text>
<text x="143" y="428.1" font-size="8.8" text-anchor="start" fill="#333" stroke="#333" stroke-width="0.14" textLength="32.8" lengthAdjust="spacingAndGlyphs">p=0.1847</text>
<text x="198.4" y="321.2" font-size="12.4" text-anchor="start" fill="#222">G</text>
<line x1="258.9" y1="339.2" x2="258.9" y2="432.5" stroke="#262626" stroke-width="1.45"/>
<line x1="255.5" y1="342.05" x2="258.9" y2="342.05" stroke="#1a1a1a" stroke-width="1.1"/>
<text x="252.8" y="345.45" font-size="9.8" text-anchor="end" fill="#222" stroke="#222" stroke-width="0.14" textLength="13.73" lengthAdjust="spacingAndGlyphs">500</text>
<line x1="255.5" y1="360" x2="258.9" y2="360" stroke="#1a1a1a" stroke-width="1.1"/>
<text x="252.8" y="363.4" font-size="9.8" text-anchor="end" fill="#222" stroke="#222" stroke-width="0.14" textLength="13.73" lengthAdjust="spacingAndGlyphs">400</text>
<line x1="255.5" y1="377.95" x2="258.9" y2="377.95" stroke="#1a1a1a" stroke-width="1.1"/>
<text x="252.8" y="381.35" font-size="9.8" text-anchor="end" fill="#222" stroke="#222" stroke-width="0.14" textLength="13.73" lengthAdjust="spacingAndGlyphs">300</text>
<line x1="255.5" y1="395.9" x2="258.9" y2="395.9" stroke="#1a1a1a" stroke-width="1.1"/>
<text x="252.8" y="399.3" font-size="9.8" text-anchor="end" fill="#222" stroke="#222" stroke-width="0.14" textLength="13.73" lengthAdjust="spacingAndGlyphs">200</text>
<line x1="255.5" y1="413.85" x2="258.9" y2="413.85" stroke="#1a1a1a" stroke-width="1.1"/>
<text x="252.8" y="417.25" font-size="9.8" text-anchor="end" fill="#222" stroke="#222" stroke-width="0.14" textLength="13.73" lengthAdjust="spacingAndGlyphs">100</text>
<line x1="255.5" y1="431.8" x2="258.9" y2="431.8" stroke="#1a1a1a" stroke-width="1.1"/>
<text x="252.8" y="435.2" font-size="9.8" text-anchor="end" fill="#222" stroke="#222" stroke-width="0.14" textLength="4.58" lengthAdjust="spacingAndGlyphs">0</text>
<line x1="258.2" y1="431.8" x2="349" y2="431.8" stroke="#262626" stroke-width="1.45"/>
<line x1="287.3" y1="431.8" x2="287.3" y2="435.2" stroke="#1a1a1a" stroke-width="1.1"/>
<line x1="321.2" y1="431.8" x2="321.2" y2="435.2" stroke="#1a1a1a" stroke-width="1.1"/>
<text x="284.5" y="448.1" font-size="10.6" text-anchor="middle" fill="#222" stroke="#222" stroke-width="0.14" textLength="41.7" lengthAdjust="spacingAndGlyphs">ΔGFR&lt;60</text>
<text x="325.3" y="448.1" font-size="10.6" text-anchor="middle" fill="#222" stroke="#222" stroke-width="0.14" textLength="40" lengthAdjust="spacingAndGlyphs">ΔGFR&gt;60</text>
<text transform="translate(217.3,385.3) rotate(-90)" font-size="10.5" text-anchor="middle" fill="#222" stroke="#222" stroke-width="0.14" textLength="117" lengthAdjust="spacingAndGlyphs">Urinary albumin excretion</text>
<text transform="translate(228.8,385.3) rotate(-90)" font-size="10.5" text-anchor="middle" fill="#222" stroke="#222" stroke-width="0.14" textLength="124.1" lengthAdjust="spacingAndGlyphs">at 32 weeks of age [μg/24h]</text>
<line x1="274.6" y1="336" x2="330.4" y2="336" stroke="#444" stroke-width="1.3"/>
<circle cx="301.6" cy="331.5" r="1.3" fill="#222"/>
<circle cx="287.1" cy="358.1" r="2.3" fill="none" stroke="#a52139" stroke-width="1"/>
<circle cx="278.5" cy="371.3" r="2.3" fill="none" stroke="#a52139" stroke-width="1"/>
<circle cx="284.2" cy="378.1" r="2.3" fill="none" stroke="#a52139" stroke-width="1"/>
<circle cx="290" cy="378.1" r="2.3" fill="none" stroke="#a52139" stroke-width="1"/>
<circle cx="295.6" cy="376.2" r="2.3" fill="none" stroke="#a52139" stroke-width="1"/>
<circle cx="278.5" cy="397.3" r="2.3" fill="none" stroke="#a52139" stroke-width="1"/>
<circle cx="284.2" cy="399.8" r="2.3" fill="none" stroke="#a52139" stroke-width="1"/>
<circle cx="290" cy="399.4" r="2.3" fill="none" stroke="#a52139" stroke-width="1"/>
<circle cx="295.6" cy="395" r="2.3" fill="none" stroke="#a52139" stroke-width="1"/>
<line x1="287.3" y1="369" x2="287.3" y2="398.3" stroke="#1a1a1a" stroke-width="1.05"/>
<line x1="276.05" y1="383.5" x2="298.55" y2="383.5" stroke="#1a1a1a" stroke-width="1.45"/>
<line x1="281.6" y1="369" x2="293" y2="369" stroke="#1a1a1a" stroke-width="1.2"/>
<line x1="281.6" y1="398.3" x2="293" y2="398.3" stroke="#1a1a1a" stroke-width="1.2"/>
<circle cx="317.3" cy="344" r="2.55" fill="#3c5e8d"/>
<circle cx="324.4" cy="350.4" r="2.55" fill="#3c5e8d"/>
<circle cx="313.8" cy="361.9" r="2.55" fill="#3c5e8d"/>
<circle cx="320.8" cy="363.8" r="2.55" fill="#3c5e8d"/>
<circle cx="327.9" cy="361.9" r="2.55" fill="#3c5e8d"/>
<circle cx="317.3" cy="367.1" r="2.55" fill="#3c5e8d"/>
<circle cx="324.4" cy="372.3" r="2.55" fill="#3c5e8d"/>
<circle cx="324.4" cy="381.9" r="2.55" fill="#3c5e8d"/>
<circle cx="317.3" cy="385.4" r="2.55" fill="#3c5e8d"/>
<line x1="321.2" y1="352.3" x2="321.2" y2="378.7" stroke="#1a1a1a" stroke-width="1.05"/>
<line x1="310.05" y1="365.8" x2="332.35" y2="365.8" stroke="#1a1a1a" stroke-width="1.45"/>
<line x1="315.45" y1="352.3" x2="326.95" y2="352.3" stroke="#1a1a1a" stroke-width="1.2"/>
<line x1="315.45" y1="378.7" x2="326.95" y2="378.7" stroke="#1a1a1a" stroke-width="1.2"/>
<text x="360.8" y="320.6" font-size="12.4" text-anchor="start" fill="#222">H</text>
<line x1="421.5" y1="338.7" x2="421.5" y2="432.6" stroke="#262626" stroke-width="1.45"/>
<line x1="418.1" y1="341.9" x2="421.5" y2="341.9" stroke="#1a1a1a" stroke-width="1.1"/>
<text x="415.1" y="345.3" font-size="9.8" text-anchor="end" fill="#222" stroke="#222" stroke-width="0.14" textLength="13.73" lengthAdjust="spacingAndGlyphs">500</text>
<line x1="418.1" y1="359.9" x2="421.5" y2="359.9" stroke="#1a1a1a" stroke-width="1.1"/>
<text x="415.1" y="363.3" font-size="9.8" text-anchor="end" fill="#222" stroke="#222" stroke-width="0.14" textLength="13.73" lengthAdjust="spacingAndGlyphs">400</text>
<line x1="418.1" y1="377.9" x2="421.5" y2="377.9" stroke="#1a1a1a" stroke-width="1.1"/>
<text x="415.1" y="381.3" font-size="9.8" text-anchor="end" fill="#222" stroke="#222" stroke-width="0.14" textLength="13.73" lengthAdjust="spacingAndGlyphs">300</text>
<line x1="418.1" y1="395.9" x2="421.5" y2="395.9" stroke="#1a1a1a" stroke-width="1.1"/>
<text x="415.1" y="399.3" font-size="9.8" text-anchor="end" fill="#222" stroke="#222" stroke-width="0.14" textLength="13.73" lengthAdjust="spacingAndGlyphs">200</text>
<line x1="418.1" y1="413.9" x2="421.5" y2="413.9" stroke="#1a1a1a" stroke-width="1.1"/>
<text x="415.1" y="417.3" font-size="9.8" text-anchor="end" fill="#222" stroke="#222" stroke-width="0.14" textLength="13.73" lengthAdjust="spacingAndGlyphs">100</text>
<line x1="418.1" y1="431.9" x2="421.5" y2="431.9" stroke="#1a1a1a" stroke-width="1.1"/>
<text x="415.1" y="435.3" font-size="9.8" text-anchor="end" fill="#222" stroke="#222" stroke-width="0.14" textLength="4.58" lengthAdjust="spacingAndGlyphs">0</text>
<line x1="420.8" y1="431.9" x2="511.4" y2="431.9" stroke="#262626" stroke-width="1.45"/>
<line x1="449.4" y1="431.9" x2="449.4" y2="435.3" stroke="#1a1a1a" stroke-width="1.1"/>
<line x1="482.9" y1="431.9" x2="482.9" y2="435.3" stroke="#1a1a1a" stroke-width="1.1"/>
<text x="446.6" y="448.5" font-size="10.6" text-anchor="middle" fill="#222" stroke="#222" stroke-width="0.14" textLength="41.7" lengthAdjust="spacingAndGlyphs">ΔGFR&lt;60</text>
<text x="487.4" y="448.5" font-size="10.6" text-anchor="middle" fill="#222" stroke="#222" stroke-width="0.14" textLength="40" lengthAdjust="spacingAndGlyphs">ΔGFR&gt;60</text>
<text transform="translate(379.6,385.3) rotate(-90)" font-size="10.5" text-anchor="middle" fill="#222" stroke="#222" stroke-width="0.14" textLength="117" lengthAdjust="spacingAndGlyphs">Urinary albumin excretion</text>
<text transform="translate(391.7,385.3) rotate(-90)" font-size="10.5" text-anchor="middle" fill="#222" stroke="#222" stroke-width="0.14" textLength="124.1" lengthAdjust="spacingAndGlyphs">at 32 weeks of age [μg/24h]</text>
<path d="M449.4 400.05L453.35 404L449.4 407.95L445.45 404Z" fill="#a52139"/>
<path d="M449.2 402.3Q452.8 404 449.2 405.7Z" fill="#fff"/>
<path d="M444.6 412.55L448.55 416.5L444.6 420.45L440.65 416.5Z" fill="#a52139"/>
<path d="M444.4 414.8Q448 416.5 444.4 418.2Z" fill="#fff"/>
<path d="M454.6 414.15L458.55 418.1L454.6 422.05L450.65 418.1Z" fill="#a52139"/>
<path d="M454.4 416.4Q458 418.1 454.4 419.8Z" fill="#fff"/>
<path d="M449.4 425.05L453.35 429L449.4 432.95L445.45 429Z" fill="#a52139"/>
<path d="M449.2 427.3Q452.8 429 449.2 430.7Z" fill="#fff"/>
<line x1="449.4" y1="406.9" x2="449.4" y2="426.7" stroke="#1a1a1a" stroke-width="1.05"/>
<line x1="438.45" y1="416.9" x2="460.35" y2="416.9" stroke="#1a1a1a" stroke-width="1.45"/>
<line x1="443.9" y1="406.9" x2="454.9" y2="406.9" stroke="#1a1a1a" stroke-width="1.2"/>
<line x1="443.9" y1="426.7" x2="454.9" y2="426.7" stroke="#1a1a1a" stroke-width="1.2"/>
<path d="M483.1 411.25L487.05 415.2L483.1 419.15L479.15 415.2Z" fill="#3c5e8d"/>
<path d="M482.9 413.5Q486.5 415.2 482.9 416.9Z" fill="#fff"/>
<path d="M487.9 416.45L491.85 420.4L487.9 424.35L483.95 420.4Z" fill="#3c5e8d"/>
<path d="M487.7 418.7Q491.3 420.4 487.7 422.1Z" fill="#fff"/>
<path d="M477.7 421.25L481.65 425.2L477.7 429.15L473.75 425.2Z" fill="#3c5e8d"/>
<path d="M477.5 423.5Q481.1 425.2 477.5 426.9Z" fill="#fff"/>
<path d="M483.1 421.65L487.05 425.6L483.1 429.55L479.15 425.6Z" fill="#3c5e8d"/>
<path d="M482.9 423.9Q486.5 425.6 482.9 427.3Z" fill="#fff"/>
<path d="M487.3 422.25L491.25 426.2L487.3 430.15L483.35 426.2Z" fill="#3c5e8d"/>
<path d="M487.1 424.5Q490.7 426.2 487.1 427.9Z" fill="#fff"/>
<path d="M481.2 426.05L485.15 430L481.2 433.95L477.25 430Z" fill="#3c5e8d"/>
<path d="M481 428.3Q484.6 430 481 431.7Z" fill="#fff"/>
<path d="M480.2 424.05L484.15 428L480.2 431.95L476.25 428Z" fill="#3c5e8d"/>
<path d="M480 426.3Q483.6 428 480 429.7Z" fill="#fff"/>
<line x1="483.1" y1="418.5" x2="483.1" y2="429" stroke="#1a1a1a" stroke-width="1.05"/>
<line x1="471.95" y1="424.2" x2="494.25" y2="424.2" stroke="#1a1a1a" stroke-width="1.45"/>
<line x1="477.55" y1="418.5" x2="488.65" y2="418.5" stroke="#1a1a1a" stroke-width="1.2"/>
<line x1="477.55" y1="429" x2="488.65" y2="429" stroke="#1a1a1a" stroke-width="1.2"/>
<text x="7.2" y="479.2" font-size="12.4" text-anchor="start" fill="#222">I</text>
<line x1="67.1" y1="497" x2="67.1" y2="591" stroke="#262626" stroke-width="1.45"/>
<line x1="63.7" y1="500.3" x2="67.1" y2="500.3" stroke="#1a1a1a" stroke-width="1.1"/>
<text x="60.3" y="503.7" font-size="9.8" text-anchor="end" fill="#222" stroke="#222" stroke-width="0.14" textLength="13.73" lengthAdjust="spacingAndGlyphs">250</text>
<line x1="63.7" y1="518.3" x2="67.1" y2="518.3" stroke="#1a1a1a" stroke-width="1.1"/>
<text x="60.3" y="521.7" font-size="9.8" text-anchor="end" fill="#222" stroke="#222" stroke-width="0.14" textLength="13.73" lengthAdjust="spacingAndGlyphs">200</text>
<line x1="63.7" y1="536.3" x2="67.1" y2="536.3" stroke="#1a1a1a" stroke-width="1.1"/>
<text x="60.3" y="539.7" font-size="9.8" text-anchor="end" fill="#222" stroke="#222" stroke-width="0.14" textLength="13.73" lengthAdjust="spacingAndGlyphs">150</text>
<line x1="63.7" y1="554.3" x2="67.1" y2="554.3" stroke="#1a1a1a" stroke-width="1.1"/>
<text x="60.3" y="557.7" font-size="9.8" text-anchor="end" fill="#222" stroke="#222" stroke-width="0.14" textLength="13.73" lengthAdjust="spacingAndGlyphs">100</text>
<line x1="63.7" y1="572.3" x2="67.1" y2="572.3" stroke="#1a1a1a" stroke-width="1.1"/>
<text x="60.3" y="575.7" font-size="9.8" text-anchor="end" fill="#222" stroke="#222" stroke-width="0.14" textLength="9.16" lengthAdjust="spacingAndGlyphs">50</text>
<line x1="63.7" y1="590.3" x2="67.1" y2="590.3" stroke="#1a1a1a" stroke-width="1.1"/>
<text x="60.3" y="593.7" font-size="9.8" text-anchor="end" fill="#222" stroke="#222" stroke-width="0.14" textLength="4.58" lengthAdjust="spacingAndGlyphs">0</text>
<line x1="66.4" y1="590.3" x2="160.3" y2="590.3" stroke="#262626" stroke-width="1.45"/>
<line x1="67.1" y1="590.3" x2="67.1" y2="593.7" stroke="#1a1a1a" stroke-width="1.1"/>
<text x="67.1" y="604.8" font-size="9.8" text-anchor="middle" fill="#222" stroke="#222" stroke-width="0.14" textLength="11.9" lengthAdjust="spacingAndGlyphs">-50</text>
<line x1="85" y1="590.3" x2="85" y2="593.7" stroke="#1a1a1a" stroke-width="1.1"/>
<text x="85" y="604.8" font-size="9.8" text-anchor="middle" fill="#222" stroke="#222" stroke-width="0.14" textLength="4.58" lengthAdjust="spacingAndGlyphs">0</text>
<line x1="103" y1="590.3" x2="103" y2="593.7" stroke="#1a1a1a" stroke-width="1.1"/>
<text x="103" y="604.8" font-size="9.8" text-anchor="middle" fill="#222" stroke="#222" stroke-width="0.14" textLength="9.16" lengthAdjust="spacingAndGlyphs">50</text>
<line x1="121" y1="590.3" x2="121" y2="593.7" stroke="#1a1a1a" stroke-width="1.1"/>
<text x="121" y="604.8" font-size="9.8" text-anchor="middle" fill="#222" stroke="#222" stroke-width="0.14" textLength="13.73" lengthAdjust="spacingAndGlyphs">100</text>
<line x1="139" y1="590.3" x2="139" y2="593.7" stroke="#1a1a1a" stroke-width="1.1"/>
<text x="139" y="604.8" font-size="9.8" text-anchor="middle" fill="#222" stroke="#222" stroke-width="0.14" textLength="13.73" lengthAdjust="spacingAndGlyphs">150</text>
<line x1="157.3" y1="590.3" x2="157.3" y2="593.7" stroke="#1a1a1a" stroke-width="1.1"/>
<text x="157.3" y="604.8" font-size="9.8" text-anchor="middle" fill="#222" stroke="#222" stroke-width="0.14" textLength="13.73" lengthAdjust="spacingAndGlyphs">200</text>
<text x="112.3" y="620.1" font-size="10" text-anchor="middle" fill="#222" stroke="#222" stroke-width="0.14" textLength="62.8" lengthAdjust="spacingAndGlyphs">ΔGFR [μl/min]</text>
<text transform="translate(25.7,544.5) rotate(-90)" font-size="10.5" text-anchor="middle" fill="#222" stroke="#222" stroke-width="0.14" textLength="102.6" lengthAdjust="spacingAndGlyphs">GFR at 32 weeks of age</text>
<text transform="translate(37.4,544.5) rotate(-90)" font-size="10.5" text-anchor="middle" fill="#222" stroke="#222" stroke-width="0.14" textLength="34.7" lengthAdjust="spacingAndGlyphs">[μl/min]</text>
<line x1="71" y1="487.6" x2="82.5" y2="487.6" stroke="#1a1a1a" stroke-width="1.1"/>
<circle cx="76.6" cy="487.6" r="2.6" fill="#a52139"/>
<text x="86.7" y="490" font-size="8.9" text-anchor="start" fill="#333" stroke="#333" stroke-width="0.14" textLength="16.6" lengthAdjust="spacingAndGlyphs">Male</text>
<line x1="71" y1="498.5" x2="82.5" y2="498.5" stroke="#1a1a1a" stroke-width="1.1"/>
<circle cx="76.6" cy="498.5" r="2.3" fill="#fff" stroke="#3c5e8d" stroke-width="1.15"/>
<text x="86.7" y="501.3" font-size="8.9" text-anchor="start" fill="#333" stroke="#333" stroke-width="0.14" textLength="25" lengthAdjust="spacingAndGlyphs">Female</text>
<line x1="71.9" y1="527.8" x2="125.7" y2="550.4" stroke="#1a1a1a" stroke-width="1.3"/>
<line x1="84.2" y1="523.8" x2="149.2" y2="529.6" stroke="#1a1a1a" stroke-width="1.1"/>
<circle cx="84.2" cy="530.3" r="2.5" fill="#fff" stroke="#3c5e8d" stroke-width="1.15"/>
<circle cx="92.7" cy="521.5" r="2.5" fill="#fff" stroke="#3c5e8d" stroke-width="1.15"/>
<circle cx="92.7" cy="539.5" r="2.5" fill="#fff" stroke="#3c5e8d" stroke-width="1.15"/>
<circle cx="105.8" cy="516.9" r="2.5" fill="#fff" stroke="#3c5e8d" stroke-width="1.15"/>
<circle cx="110.5" cy="516.5" r="2.5" fill="#fff" stroke="#3c5e8d" stroke-width="1.15"/>
<circle cx="105.4" cy="527.3" r="2.5" fill="#fff" stroke="#3c5e8d" stroke-width="1.15"/>
<circle cx="112.3" cy="528.5" r="2.5" fill="#fff" stroke="#3c5e8d" stroke-width="1.15"/>
<circle cx="120.9" cy="510.7" r="2.5" fill="#fff" stroke="#3c5e8d" stroke-width="1.15"/>
<circle cx="120.9" cy="525" r="2.5" fill="#fff" stroke="#3c5e8d" stroke-width="1.15"/>
<circle cx="118.8" cy="536.1" r="2.5" fill="#fff" stroke="#3c5e8d" stroke-width="1.15"/>
<circle cx="130.1" cy="526.2" r="2.5" fill="#fff" stroke="#3c5e8d" stroke-width="1.15"/>
<circle cx="148.5" cy="542.3" r="2.5" fill="#fff" stroke="#3c5e8d" stroke-width="1.15"/>
<circle cx="72.4" cy="518.1" r="2.55" fill="#a52139"/>
<circle cx="83.9" cy="539.3" r="2.55" fill="#a52139"/>
<circle cx="93.8" cy="545.8" r="2.55" fill="#a52139"/>
<circle cx="100.3" cy="534.2" r="2.55" fill="#a52139"/>
<circle cx="103.1" cy="536.1" r="2.55" fill="#a52139"/>
<circle cx="105.8" cy="537.7" r="2.55" fill="#a52139"/>
<circle cx="107.7" cy="536.5" r="2.55" fill="#a52139"/>
<circle cx="109.5" cy="538.8" r="2.55" fill="#a52139"/>
<circle cx="104.2" cy="541.9" r="2.55" fill="#a52139"/>
<circle cx="105.8" cy="545.8" r="2.55" fill="#a52139"/>
<circle cx="111.9" cy="545.8" r="2.55" fill="#a52139"/>
<circle cx="110.7" cy="549.9" r="2.55" fill="#a52139"/>
<circle cx="114.6" cy="554.3" r="2.55" fill="#a52139"/>
<circle cx="117.4" cy="554.3" r="2.55" fill="#a52139"/>
<circle cx="118.8" cy="537.7" r="2.55" fill="#a52139"/>
<circle cx="121.5" cy="546.9" r="2.55" fill="#a52139"/>
<circle cx="125.7" cy="543" r="2.55" fill="#a52139"/>
<text x="146.5" y="514.1" font-size="8.8" fill="#333" stroke="#333" stroke-width="0.14">R</text>
<text x="152.36" y="510.7" font-size="5.6" fill="#333">2</text>
<text x="155.26" y="514.1" font-size="8.8" fill="#333" stroke="#333" stroke-width="0.14" textLength="27.34" lengthAdjust="spacingAndGlyphs">=0.0242</text>
<text x="146.5" y="525.3" font-size="8.8" text-anchor="start" fill="#333" stroke="#333" stroke-width="0.14" textLength="32.5" lengthAdjust="spacingAndGlyphs">p=0.6295</text>
<text x="127.3" y="560.2" font-size="8.8" fill="#333" stroke="#333" stroke-width="0.14">R</text>
<text x="133.16" y="556.8" font-size="5.6" fill="#333">2</text>
<text x="136.06" y="560.2" font-size="8.8" fill="#333" stroke="#333" stroke-width="0.14" textLength="27.34" lengthAdjust="spacingAndGlyphs">=0.4409</text>
<text x="127.3" y="571" font-size="8.8" text-anchor="start" fill="#333" stroke="#333" stroke-width="0.14" textLength="32.5" lengthAdjust="spacingAndGlyphs">p=0.0037</text>
<text x="198.2" y="479.6" font-size="12.4" text-anchor="start" fill="#222">J</text>
<line x1="259.4" y1="496.2" x2="259.4" y2="591.1" stroke="#262626" stroke-width="1.45"/>
<line x1="256" y1="499" x2="259.4" y2="499" stroke="#1a1a1a" stroke-width="1.1"/>
<text x="252.8" y="502.4" font-size="9.8" text-anchor="end" fill="#222" stroke="#222" stroke-width="0.14" textLength="13.73" lengthAdjust="spacingAndGlyphs">250</text>
<line x1="256" y1="517.28" x2="259.4" y2="517.28" stroke="#1a1a1a" stroke-width="1.1"/>
<text x="252.8" y="520.68" font-size="9.8" text-anchor="end" fill="#222" stroke="#222" stroke-width="0.14" textLength="13.73" lengthAdjust="spacingAndGlyphs">200</text>
<line x1="256" y1="535.56" x2="259.4" y2="535.56" stroke="#1a1a1a" stroke-width="1.1"/>
<text x="252.8" y="538.96" font-size="9.8" text-anchor="end" fill="#222" stroke="#222" stroke-width="0.14" textLength="13.73" lengthAdjust="spacingAndGlyphs">150</text>
<line x1="256" y1="553.84" x2="259.4" y2="553.84" stroke="#1a1a1a" stroke-width="1.1"/>
<text x="252.8" y="557.24" font-size="9.8" text-anchor="end" fill="#222" stroke="#222" stroke-width="0.14" textLength="13.73" lengthAdjust="spacingAndGlyphs">100</text>
<line x1="256" y1="572.12" x2="259.4" y2="572.12" stroke="#1a1a1a" stroke-width="1.1"/>
<text x="252.8" y="575.52" font-size="9.8" text-anchor="end" fill="#222" stroke="#222" stroke-width="0.14" textLength="9.16" lengthAdjust="spacingAndGlyphs">50</text>
<line x1="256" y1="590.4" x2="259.4" y2="590.4" stroke="#1a1a1a" stroke-width="1.1"/>
<text x="252.8" y="593.8" font-size="9.8" text-anchor="end" fill="#222" stroke="#222" stroke-width="0.14" textLength="4.58" lengthAdjust="spacingAndGlyphs">0</text>
<line x1="258.7" y1="590.4" x2="350" y2="590.4" stroke="#262626" stroke-width="1.45"/>
<line x1="287.5" y1="590.4" x2="287.5" y2="593.8" stroke="#1a1a1a" stroke-width="1.1"/>
<line x1="322.1" y1="590.4" x2="322.1" y2="593.8" stroke="#1a1a1a" stroke-width="1.1"/>
<text x="284.5" y="607" font-size="10.6" text-anchor="middle" fill="#222" stroke="#222" stroke-width="0.14" textLength="41.7" lengthAdjust="spacingAndGlyphs">ΔGFR&lt;60</text>
<text x="325.3" y="607" font-size="10.6" text-anchor="middle" fill="#222" stroke="#222" stroke-width="0.14" textLength="40" lengthAdjust="spacingAndGlyphs">ΔGFR&gt;60</text>
<text transform="translate(217.7,544.1) rotate(-90)" font-size="10.5" text-anchor="middle" fill="#222" stroke="#222" stroke-width="0.14" textLength="102.6" lengthAdjust="spacingAndGlyphs">GFR at 32 weeks of age</text>
<text transform="translate(229.5,544.1) rotate(-90)" font-size="10.5" text-anchor="middle" fill="#222" stroke="#222" stroke-width="0.14" textLength="34.7" lengthAdjust="spacingAndGlyphs">[μl/min]</text>
<line x1="271.7" y1="502.7" x2="328.8" y2="502.7" stroke="#444" stroke-width="1.3"/>
<circle cx="300.1" cy="498.7" r="1.3" fill="#222"/>
<circle cx="287.5" cy="516.9" r="2.3" fill="none" stroke="#a52139" stroke-width="1"/>
<circle cx="280.8" cy="535.2" r="2.3" fill="none" stroke="#a52139" stroke-width="1"/>
<circle cx="294.6" cy="533.3" r="2.3" fill="none" stroke="#a52139" stroke-width="1"/>
<circle cx="279.8" cy="538.5" r="2.3" fill="none" stroke="#a52139" stroke-width="1"/>
<circle cx="283.7" cy="541" r="2.3" fill="none" stroke="#a52139" stroke-width="1"/>
<circle cx="287.5" cy="537.1" r="2.3" fill="none" stroke="#a52139" stroke-width="1"/>
<circle cx="296.2" cy="539.6" r="2.3" fill="none" stroke="#a52139" stroke-width="1"/>
<circle cx="287.5" cy="544.8" r="2.3" fill="none" stroke="#a52139" stroke-width="1"/>
<circle cx="291.3" cy="545.2" r="2.3" fill="none" stroke="#a52139" stroke-width="1"/>
<line x1="287.5" y1="528.5" x2="287.5" y2="545.4" stroke="#1a1a1a" stroke-width="1.05"/>
<line x1="276.45" y1="536.7" x2="298.55" y2="536.7" stroke="#1a1a1a" stroke-width="1.45"/>
<line x1="281.45" y1="528.5" x2="293.55" y2="528.5" stroke="#1a1a1a" stroke-width="1.2"/>
<line x1="281.45" y1="545.4" x2="293.55" y2="545.4" stroke="#1a1a1a" stroke-width="1.2"/>
<circle cx="318.7" cy="538.1" r="2.55" fill="#3c5e8d"/>
<circle cx="325.6" cy="537.1" r="2.55" fill="#3c5e8d"/>
<circle cx="328.8" cy="542.3" r="2.55" fill="#3c5e8d"/>
<circle cx="311.5" cy="545.8" r="2.55" fill="#3c5e8d"/>
<circle cx="322.1" cy="546.2" r="2.55" fill="#3c5e8d"/>
<circle cx="315.4" cy="549.6" r="2.55" fill="#3c5e8d"/>
<circle cx="322.1" cy="554" r="2.55" fill="#3c5e8d"/>
<circle cx="328.8" cy="553.8" r="2.55" fill="#3c5e8d"/>
<line x1="322.1" y1="539.6" x2="322.1" y2="552.5" stroke="#1a1a1a" stroke-width="1.05"/>
<line x1="310.85" y1="545.8" x2="333.35" y2="545.8" stroke="#1a1a1a" stroke-width="1.45"/>
<line x1="317.1" y1="539.6" x2="327.1" y2="539.6" stroke="#1a1a1a" stroke-width="1.2"/>
<line x1="317.1" y1="552.5" x2="327.1" y2="552.5" stroke="#1a1a1a" stroke-width="1.2"/>
<text x="360.8" y="479.7" font-size="12.4" text-anchor="start" fill="#222">K</text>
<line x1="421.7" y1="496" x2="421.7" y2="591.1" stroke="#262626" stroke-width="1.45"/>
<line x1="418.3" y1="499.2" x2="421.7" y2="499.2" stroke="#1a1a1a" stroke-width="1.1"/>
<text x="415.1" y="502.6" font-size="9.8" text-anchor="end" fill="#222" stroke="#222" stroke-width="0.14" textLength="13.73" lengthAdjust="spacingAndGlyphs">250</text>
<line x1="418.3" y1="517.44" x2="421.7" y2="517.44" stroke="#1a1a1a" stroke-width="1.1"/>
<text x="415.1" y="520.84" font-size="9.8" text-anchor="end" fill="#222" stroke="#222" stroke-width="0.14" textLength="13.73" lengthAdjust="spacingAndGlyphs">200</text>
<line x1="418.3" y1="535.68" x2="421.7" y2="535.68" stroke="#1a1a1a" stroke-width="1.1"/>
<text x="415.1" y="539.08" font-size="9.8" text-anchor="end" fill="#222" stroke="#222" stroke-width="0.14" textLength="13.73" lengthAdjust="spacingAndGlyphs">150</text>
<line x1="418.3" y1="553.92" x2="421.7" y2="553.92" stroke="#1a1a1a" stroke-width="1.1"/>
<text x="415.1" y="557.32" font-size="9.8" text-anchor="end" fill="#222" stroke="#222" stroke-width="0.14" textLength="13.73" lengthAdjust="spacingAndGlyphs">100</text>
<line x1="418.3" y1="572.16" x2="421.7" y2="572.16" stroke="#1a1a1a" stroke-width="1.1"/>
<text x="415.1" y="575.56" font-size="9.8" text-anchor="end" fill="#222" stroke="#222" stroke-width="0.14" textLength="9.16" lengthAdjust="spacingAndGlyphs">50</text>
<line x1="418.3" y1="590.4" x2="421.7" y2="590.4" stroke="#1a1a1a" stroke-width="1.1"/>
<text x="415.1" y="593.8" font-size="9.8" text-anchor="end" fill="#222" stroke="#222" stroke-width="0.14" textLength="4.58" lengthAdjust="spacingAndGlyphs">0</text>
<line x1="421" y1="590.4" x2="511.5" y2="590.4" stroke="#262626" stroke-width="1.45"/>
<line x1="449.6" y1="590.4" x2="449.6" y2="593.8" stroke="#1a1a1a" stroke-width="1.1"/>
<line x1="483.3" y1="590.4" x2="483.3" y2="593.8" stroke="#1a1a1a" stroke-width="1.1"/>
<text x="446.8" y="607" font-size="10.6" text-anchor="middle" fill="#222" stroke="#222" stroke-width="0.14" textLength="41.7" lengthAdjust="spacingAndGlyphs">ΔGFR&lt;60</text>
<text x="487.6" y="607" font-size="10.6" text-anchor="middle" fill="#222" stroke="#222" stroke-width="0.14" textLength="40" lengthAdjust="spacingAndGlyphs">ΔGFR&gt;60</text>
<text transform="translate(380.1,544.1) rotate(-90)" font-size="10.5" text-anchor="middle" fill="#222" stroke="#222" stroke-width="0.14" textLength="102.6" lengthAdjust="spacingAndGlyphs">GFR at 32 weeks of age</text>
<text transform="translate(391.8,544.1) rotate(-90)" font-size="10.5" text-anchor="middle" fill="#222" stroke="#222" stroke-width="0.14" textLength="34.7" lengthAdjust="spacingAndGlyphs">[μl/min]</text>
<path d="M449.6 511.65L453.55 515.6L449.6 519.55L445.65 515.6Z" fill="#a52139"/>
<path d="M449.4 513.9Q453 515.6 449.4 517.3Z" fill="#fff"/>
<path d="M444.8 516.85L448.75 520.8L444.8 524.75L440.85 520.8Z" fill="#a52139"/>
<path d="M444.6 519.1Q448.2 520.8 444.6 522.5Z" fill="#fff"/>
<path d="M459.6 522.55L463.55 526.5L459.6 530.45L455.65 526.5Z" fill="#a52139"/>
<path d="M459.4 524.8Q463 526.5 459.4 528.2Z" fill="#fff"/>
<path d="M455 526.05L458.95 530L455 533.95L451.05 530Z" fill="#a52139"/>
<path d="M454.8 528.3Q458.4 530 454.8 531.7Z" fill="#fff"/>
<path d="M444.8 535.45L448.75 539.4L444.8 543.35L440.85 539.4Z" fill="#a52139"/>
<path d="M444.6 537.7Q448.2 539.4 444.6 541.1Z" fill="#fff"/>
<line x1="449.6" y1="517.9" x2="449.6" y2="535.6" stroke="#1a1a1a" stroke-width="1.05"/>
<line x1="438.55" y1="526.5" x2="460.65" y2="526.5" stroke="#1a1a1a" stroke-width="1.45"/>
<line x1="444" y1="517.9" x2="455.2" y2="517.9" stroke="#1a1a1a" stroke-width="1.2"/>
<line x1="444" y1="535.6" x2="455.2" y2="535.6" stroke="#1a1a1a" stroke-width="1.2"/>
<path d="M488.1 506.25L492.05 510.2L488.1 514.15L484.15 510.2Z" fill="#3c5e8d"/>
<path d="M487.9 508.5Q491.5 510.2 487.9 511.9Z" fill="#fff"/>
<path d="M479 511.45L482.95 515.4L479 519.35L475.05 515.4Z" fill="#3c5e8d"/>
<path d="M478.8 513.7Q482.4 515.4 478.8 517.1Z" fill="#fff"/>
<path d="M490 520.65L493.95 524.6L490 528.55L486.05 524.6Z" fill="#3c5e8d"/>
<path d="M489.8 522.9Q493.4 524.6 489.8 526.3Z" fill="#fff"/>
<path d="M476.5 521.65L480.45 525.6L476.5 529.55L472.55 525.6Z" fill="#3c5e8d"/>
<path d="M476.3 523.9Q479.9 525.6 476.3 527.3Z" fill="#fff"/>
<path d="M483.3 523.95L487.25 527.9L483.3 531.85L479.35 527.9Z" fill="#3c5e8d"/>
<path d="M483.1 526.2Q486.7 527.9 483.1 529.6Z" fill="#fff"/>
<path d="M488.5 532.25L492.45 536.2L488.5 540.15L484.55 536.2Z" fill="#3c5e8d"/>
<path d="M488.3 534.5Q491.9 536.2 488.3 537.9Z" fill="#fff"/>
<path d="M479 537.55L482.95 541.5L479 545.45L475.05 541.5Z" fill="#3c5e8d"/>
<path d="M478.8 539.8Q482.4 541.5 478.8 543.2Z" fill="#fff"/>
<line x1="483.3" y1="515.4" x2="483.3" y2="536.7" stroke="#1a1a1a" stroke-width="1.05"/>
<line x1="472.45" y1="526.2" x2="494.15" y2="526.2" stroke="#1a1a1a" stroke-width="1.45"/>
<line x1="478" y1="515.4" x2="488.6" y2="515.4" stroke="#1a1a1a" stroke-width="1.2"/>
<line x1="478" y1="536.7" x2="488.6" y2="536.7" stroke="#1a1a1a" stroke-width="1.2"/>
<text x="7.8" y="638.6" font-size="12.4" text-anchor="start" fill="#222">L</text>
<line x1="67.1" y1="651.7" x2="67.1" y2="745.7" stroke="#262626" stroke-width="1.45"/>
<line x1="63.7" y1="655" x2="67.1" y2="655" stroke="#1a1a1a" stroke-width="1.1"/>
<text x="60.1" y="658.4" font-size="9.8" text-anchor="end" fill="#222" stroke="#222" stroke-width="0.14" textLength="16.02" lengthAdjust="spacingAndGlyphs">0.20</text>
<line x1="63.7" y1="677.5" x2="67.1" y2="677.5" stroke="#1a1a1a" stroke-width="1.1"/>
<text x="60.1" y="680.9" font-size="9.8" text-anchor="end" fill="#222" stroke="#222" stroke-width="0.14" textLength="16.02" lengthAdjust="spacingAndGlyphs">0.15</text>
<line x1="63.7" y1="700" x2="67.1" y2="700" stroke="#1a1a1a" stroke-width="1.1"/>
<text x="60.1" y="703.4" font-size="9.8" text-anchor="end" fill="#222" stroke="#222" stroke-width="0.14" textLength="16.02" lengthAdjust="spacingAndGlyphs">0.10</text>
<line x1="63.7" y1="722.5" x2="67.1" y2="722.5" stroke="#1a1a1a" stroke-width="1.1"/>
<text x="60.1" y="725.9" font-size="9.8" text-anchor="end" fill="#222" stroke="#222" stroke-width="0.14" textLength="16.02" lengthAdjust="spacingAndGlyphs">0.05</text>
<line x1="63.7" y1="745" x2="67.1" y2="745" stroke="#1a1a1a" stroke-width="1.1"/>
<text x="60.1" y="748.4" font-size="9.8" text-anchor="end" fill="#222" stroke="#222" stroke-width="0.14" textLength="16.02" lengthAdjust="spacingAndGlyphs">0.00</text>
<line x1="66.4" y1="745" x2="160.3" y2="745" stroke="#262626" stroke-width="1.45"/>
<line x1="67.1" y1="745" x2="67.1" y2="748.4" stroke="#1a1a1a" stroke-width="1.1"/>
<text x="67.1" y="759.5" font-size="9.8" text-anchor="middle" fill="#222" stroke="#222" stroke-width="0.14" textLength="11.9" lengthAdjust="spacingAndGlyphs">-50</text>
<line x1="85" y1="745" x2="85" y2="748.4" stroke="#1a1a1a" stroke-width="1.1"/>
<text x="85" y="759.5" font-size="9.8" text-anchor="middle" fill="#222" stroke="#222" stroke-width="0.14" textLength="4.58" lengthAdjust="spacingAndGlyphs">0</text>
<line x1="103" y1="745" x2="103" y2="748.4" stroke="#1a1a1a" stroke-width="1.1"/>
<text x="103" y="759.5" font-size="9.8" text-anchor="middle" fill="#222" stroke="#222" stroke-width="0.14" textLength="9.16" lengthAdjust="spacingAndGlyphs">50</text>
<line x1="121" y1="745" x2="121" y2="748.4" stroke="#1a1a1a" stroke-width="1.1"/>
<text x="121" y="759.5" font-size="9.8" text-anchor="middle" fill="#222" stroke="#222" stroke-width="0.14" textLength="13.73" lengthAdjust="spacingAndGlyphs">100</text>
<line x1="139" y1="745" x2="139" y2="748.4" stroke="#1a1a1a" stroke-width="1.1"/>
<text x="139" y="759.5" font-size="9.8" text-anchor="middle" fill="#222" stroke="#222" stroke-width="0.14" textLength="13.73" lengthAdjust="spacingAndGlyphs">150</text>
<line x1="157.3" y1="745" x2="157.3" y2="748.4" stroke="#1a1a1a" stroke-width="1.1"/>
<text x="157.3" y="759.5" font-size="9.8" text-anchor="middle" fill="#222" stroke="#222" stroke-width="0.14" textLength="13.73" lengthAdjust="spacingAndGlyphs">200</text>
<text x="112.3" y="774.8" font-size="10" text-anchor="middle" fill="#222" stroke="#222" stroke-width="0.14" textLength="62.8" lengthAdjust="spacingAndGlyphs">ΔGFR [μl/min]</text>
<text transform="translate(24.2,698.1) rotate(-90)" font-size="10.5" text-anchor="middle" fill="#222" stroke="#222" stroke-width="0.14" textLength="78.7" lengthAdjust="spacingAndGlyphs">Plasma creatinine</text>
<text transform="translate(36.3,698.1) rotate(-90)" font-size="10.5" text-anchor="middle" fill="#222" stroke="#222" stroke-width="0.14" textLength="119.1" lengthAdjust="spacingAndGlyphs">at 32 weeks of age [mg/dl]</text>
<line x1="71" y1="648.1" x2="82.5" y2="648.1" stroke="#1a1a1a" stroke-width="1.1"/>
<circle cx="76.6" cy="648.1" r="2.6" fill="#a52139"/>
<text x="86.7" y="650.5" font-size="8.9" text-anchor="start" fill="#333" stroke="#333" stroke-width="0.14" textLength="16.6" lengthAdjust="spacingAndGlyphs">Male</text>
<line x1="71" y1="658.9" x2="82.5" y2="658.9" stroke="#1a1a1a" stroke-width="1.1"/>
<circle cx="76.6" cy="658.9" r="2.3" fill="#fff" stroke="#3c5e8d" stroke-width="1.15"/>
<text x="86.7" y="661.7" font-size="8.9" text-anchor="start" fill="#333" stroke="#333" stroke-width="0.14" textLength="25" lengthAdjust="spacingAndGlyphs">Female</text>
<line x1="71.9" y1="704.8" x2="130.2" y2="686.4" stroke="#1a1a1a" stroke-width="1.3"/>
<line x1="83.7" y1="693.9" x2="148.9" y2="684.9" stroke="#1a1a1a" stroke-width="1.1"/>
<circle cx="84" cy="686.6" r="2.5" fill="#fff" stroke="#3c5e8d" stroke-width="1.15"/>
<circle cx="92.7" cy="681.8" r="2.5" fill="#fff" stroke="#3c5e8d" stroke-width="1.15"/>
<circle cx="93.2" cy="699.6" r="2.5" fill="#fff" stroke="#3c5e8d" stroke-width="1.15"/>
<circle cx="107.1" cy="698.7" r="2.5" fill="#fff" stroke="#3c5e8d" stroke-width="1.15"/>
<circle cx="112.6" cy="691" r="2.5" fill="#fff" stroke="#3c5e8d" stroke-width="1.15"/>
<circle cx="119.5" cy="672.8" r="2.5" fill="#fff" stroke="#3c5e8d" stroke-width="1.15"/>
<circle cx="121.2" cy="695.3" r="2.5" fill="#fff" stroke="#3c5e8d" stroke-width="1.15"/>
<circle cx="120.7" cy="699.6" r="2.5" fill="#fff" stroke="#3c5e8d" stroke-width="1.15"/>
<circle cx="130.2" cy="681.8" r="2.5" fill="#fff" stroke="#3c5e8d" stroke-width="1.15"/>
<circle cx="148.6" cy="681.8" r="2.5" fill="#fff" stroke="#3c5e8d" stroke-width="1.15"/>
<circle cx="72.3" cy="691" r="2.55" fill="#a52139"/>
<circle cx="83.7" cy="704.5" r="2.55" fill="#a52139"/>
<circle cx="93.9" cy="704.8" r="2.55" fill="#a52139"/>
<circle cx="100.5" cy="709.1" r="2.55" fill="#a52139"/>
<circle cx="103.1" cy="695.3" r="2.55" fill="#a52139"/>
<circle cx="106" cy="696.2" r="2.55" fill="#a52139"/>
<circle cx="105.7" cy="699.6" r="2.55" fill="#a52139"/>
<circle cx="110.9" cy="686.6" r="2.55" fill="#a52139"/>
<circle cx="109.7" cy="691" r="2.55" fill="#a52139"/>
<circle cx="112.1" cy="699.6" r="2.55" fill="#a52139"/>
<circle cx="114.8" cy="695.3" r="2.55" fill="#a52139"/>
<circle cx="117.8" cy="686.6" r="2.55" fill="#a52139"/>
<circle cx="120" cy="695.3" r="2.55" fill="#a52139"/>
<circle cx="121.6" cy="681.8" r="2.55" fill="#a52139"/>
<circle cx="125.6" cy="677.5" r="2.55" fill="#a52139"/>
<circle cx="130.2" cy="691" r="2.55" fill="#a52139"/>
<text x="133.5" y="651" font-size="8.8" fill="#333" stroke="#333" stroke-width="0.14">R</text>
<text x="139.36" y="647.6" font-size="5.6" fill="#333">2</text>
<text x="142.26" y="651" font-size="8.8" fill="#333" stroke="#333" stroke-width="0.14" textLength="27.34" lengthAdjust="spacingAndGlyphs">=0.2734</text>
<text x="133.5" y="659.9" font-size="8.8" text-anchor="start" fill="#333" stroke="#333" stroke-width="0.14" textLength="28" lengthAdjust="spacingAndGlyphs">p=0.026</text>
<text x="133.5" y="713.3" font-size="8.8" fill="#333" stroke="#333" stroke-width="0.14">R</text>
<text x="139.36" y="709.9" font-size="5.6" fill="#333">2</text>
<text x="142.26" y="713.3" font-size="8.8" fill="#333" stroke="#333" stroke-width="0.14" textLength="27.34" lengthAdjust="spacingAndGlyphs">=0.0686</text>
<text x="133.5" y="723.8" font-size="8.8" text-anchor="start" fill="#333" stroke="#333" stroke-width="0.14" textLength="32.5" lengthAdjust="spacingAndGlyphs">p=0.4108</text>
<text x="198.2" y="638.6" font-size="12.4" text-anchor="start" fill="#222">M</text>
<line x1="259" y1="651.9" x2="259" y2="745.5" stroke="#262626" stroke-width="1.45"/>
<line x1="255.6" y1="654.4" x2="259" y2="654.4" stroke="#1a1a1a" stroke-width="1.1"/>
<text x="252.8" y="657.8" font-size="9.8" text-anchor="end" fill="#222" stroke="#222" stroke-width="0.14" textLength="16.02" lengthAdjust="spacingAndGlyphs">0.20</text>
<line x1="255.6" y1="677" x2="259" y2="677" stroke="#1a1a1a" stroke-width="1.1"/>
<text x="252.8" y="680.4" font-size="9.8" text-anchor="end" fill="#222" stroke="#222" stroke-width="0.14" textLength="16.02" lengthAdjust="spacingAndGlyphs">0.15</text>
<line x1="255.6" y1="699.6" x2="259" y2="699.6" stroke="#1a1a1a" stroke-width="1.1"/>
<text x="252.8" y="703" font-size="9.8" text-anchor="end" fill="#222" stroke="#222" stroke-width="0.14" textLength="16.02" lengthAdjust="spacingAndGlyphs">0.10</text>
<line x1="255.6" y1="722.2" x2="259" y2="722.2" stroke="#1a1a1a" stroke-width="1.1"/>
<text x="252.8" y="725.6" font-size="9.8" text-anchor="end" fill="#222" stroke="#222" stroke-width="0.14" textLength="16.02" lengthAdjust="spacingAndGlyphs">0.05</text>
<line x1="255.6" y1="744.8" x2="259" y2="744.8" stroke="#1a1a1a" stroke-width="1.1"/>
<text x="252.8" y="748.2" font-size="9.8" text-anchor="end" fill="#222" stroke="#222" stroke-width="0.14" textLength="16.02" lengthAdjust="spacingAndGlyphs">0.00</text>
<line x1="258.3" y1="744.8" x2="350.1" y2="744.8" stroke="#262626" stroke-width="1.45"/>
<line x1="287.3" y1="744.8" x2="287.3" y2="748.2" stroke="#1a1a1a" stroke-width="1.1"/>
<line x1="320.8" y1="744.8" x2="320.8" y2="748.2" stroke="#1a1a1a" stroke-width="1.1"/>
<text x="284.5" y="761.4" font-size="10.6" text-anchor="middle" fill="#222" stroke="#222" stroke-width="0.14" textLength="41.7" lengthAdjust="spacingAndGlyphs">ΔGFR&lt;60</text>
<text x="325.3" y="761.4" font-size="10.6" text-anchor="middle" fill="#222" stroke="#222" stroke-width="0.14" textLength="40" lengthAdjust="spacingAndGlyphs">ΔGFR&gt;60</text>
<text transform="translate(216.5,698.3) rotate(-90)" font-size="10.5" text-anchor="middle" fill="#222" stroke="#222" stroke-width="0.14" textLength="78.7" lengthAdjust="spacingAndGlyphs">Plasma creatinine</text>
<text transform="translate(228.5,698.3) rotate(-90)" font-size="10.5" text-anchor="middle" fill="#222" stroke="#222" stroke-width="0.14" textLength="122" lengthAdjust="spacingAndGlyphs">at 32 weeks of age [mg/dL]</text>
<line x1="273.1" y1="648.9" x2="332.1" y2="648.9" stroke="#444" stroke-width="1.3"/>
<circle cx="301.6" cy="644.2" r="1.3" fill="#222"/>
<circle cx="287.5" cy="690.6" r="2.3" fill="none" stroke="#a52139" stroke-width="1"/>
<circle cx="279.8" cy="695.4" r="2.3" fill="none" stroke="#a52139" stroke-width="1"/>
<circle cx="283.7" cy="695.4" r="2.3" fill="none" stroke="#a52139" stroke-width="1"/>
<circle cx="291" cy="695.4" r="2.3" fill="none" stroke="#a52139" stroke-width="1"/>
<circle cx="294.8" cy="695.4" r="2.3" fill="none" stroke="#a52139" stroke-width="1"/>
<circle cx="287.5" cy="700" r="2.3" fill="none" stroke="#a52139" stroke-width="1"/>
<circle cx="280.2" cy="704.4" r="2.3" fill="none" stroke="#a52139" stroke-width="1"/>
<circle cx="294.2" cy="704.4" r="2.3" fill="none" stroke="#a52139" stroke-width="1"/>
<circle cx="287.5" cy="708.8" r="2.3" fill="none" stroke="#a52139" stroke-width="1"/>
<line x1="287.4" y1="692.9" x2="287.4" y2="704.8" stroke="#1a1a1a" stroke-width="1.05"/>
<line x1="276.2" y1="698.7" x2="298.6" y2="698.7" stroke="#1a1a1a" stroke-width="1.45"/>
<line x1="281.6" y1="692.9" x2="293.2" y2="692.9" stroke="#1a1a1a" stroke-width="1.2"/>
<line x1="281.6" y1="704.8" x2="293.2" y2="704.8" stroke="#1a1a1a" stroke-width="1.2"/>
<circle cx="324" cy="677.5" r="2.55" fill="#3c5e8d"/>
<circle cx="317.3" cy="681.7" r="2.55" fill="#3c5e8d"/>
<circle cx="311.9" cy="686.2" r="2.55" fill="#3c5e8d"/>
<circle cx="328.8" cy="686.5" r="2.55" fill="#3c5e8d"/>
<circle cx="317.3" cy="690.4" r="2.55" fill="#3c5e8d"/>
<circle cx="324" cy="690.4" r="2.55" fill="#3c5e8d"/>
<circle cx="313.5" cy="696.2" r="2.55" fill="#3c5e8d"/>
<circle cx="327.9" cy="696.2" r="2.55" fill="#3c5e8d"/>
<circle cx="321.2" cy="700" r="2.55" fill="#3c5e8d"/>
<line x1="321.1" y1="682.3" x2="321.1" y2="696.7" stroke="#1a1a1a" stroke-width="1.05"/>
<line x1="309.95" y1="689.6" x2="332.25" y2="689.6" stroke="#1a1a1a" stroke-width="1.45"/>
<line x1="315.35" y1="682.3" x2="326.85" y2="682.3" stroke="#1a1a1a" stroke-width="1.2"/>
<line x1="315.35" y1="696.7" x2="326.85" y2="696.7" stroke="#1a1a1a" stroke-width="1.2"/>
<text x="360.8" y="638.4" font-size="12.4" text-anchor="start" fill="#222">N</text>
<line x1="421.7" y1="651.5" x2="421.7" y2="745.7" stroke="#262626" stroke-width="1.45"/>
<line x1="418.3" y1="654.6" x2="421.7" y2="654.6" stroke="#1a1a1a" stroke-width="1.1"/>
<text x="415.1" y="658" font-size="9.8" text-anchor="end" fill="#222" stroke="#222" stroke-width="0.14" textLength="16.02" lengthAdjust="spacingAndGlyphs">0.20</text>
<line x1="418.3" y1="677.2" x2="421.7" y2="677.2" stroke="#1a1a1a" stroke-width="1.1"/>
<text x="415.1" y="680.6" font-size="9.8" text-anchor="end" fill="#222" stroke="#222" stroke-width="0.14" textLength="16.02" lengthAdjust="spacingAndGlyphs">0.15</text>
<line x1="418.3" y1="699.8" x2="421.7" y2="699.8" stroke="#1a1a1a" stroke-width="1.1"/>
<text x="415.1" y="703.2" font-size="9.8" text-anchor="end" fill="#222" stroke="#222" stroke-width="0.14" textLength="16.02" lengthAdjust="spacingAndGlyphs">0.10</text>
<line x1="418.3" y1="722.4" x2="421.7" y2="722.4" stroke="#1a1a1a" stroke-width="1.1"/>
<text x="415.1" y="725.8" font-size="9.8" text-anchor="end" fill="#222" stroke="#222" stroke-width="0.14" textLength="16.02" lengthAdjust="spacingAndGlyphs">0.05</text>
<line x1="418.3" y1="745" x2="421.7" y2="745" stroke="#1a1a1a" stroke-width="1.1"/>
<text x="415.1" y="748.4" font-size="9.8" text-anchor="end" fill="#222" stroke="#222" stroke-width="0.14" textLength="16.02" lengthAdjust="spacingAndGlyphs">0.00</text>
<line x1="421" y1="745" x2="511.5" y2="745" stroke="#262626" stroke-width="1.45"/>
<line x1="449.6" y1="745" x2="449.6" y2="748.4" stroke="#1a1a1a" stroke-width="1.1"/>
<line x1="483.3" y1="745" x2="483.3" y2="748.4" stroke="#1a1a1a" stroke-width="1.1"/>
<text x="446.8" y="761.6" font-size="10.6" text-anchor="middle" fill="#222" stroke="#222" stroke-width="0.14" textLength="41.7" lengthAdjust="spacingAndGlyphs">ΔGFR&lt;60</text>
<text x="487.6" y="761.6" font-size="10.6" text-anchor="middle" fill="#222" stroke="#222" stroke-width="0.14" textLength="40" lengthAdjust="spacingAndGlyphs">ΔGFR&gt;60</text>
<text transform="translate(378.8,698.3) rotate(-90)" font-size="10.5" text-anchor="middle" fill="#222" stroke="#222" stroke-width="0.14" textLength="78.7" lengthAdjust="spacingAndGlyphs">Plasma creatinine</text>
<text transform="translate(391.2,698.3) rotate(-90)" font-size="10.5" text-anchor="middle" fill="#222" stroke="#222" stroke-width="0.14" textLength="119.1" lengthAdjust="spacingAndGlyphs">at 32 weeks of age [mg/dl]</text>
<path d="M444.8 677.95L448.75 681.9L444.8 685.85L440.85 681.9Z" fill="#a52139"/>
<path d="M444.6 680.2Q448.2 681.9 444.6 683.6Z" fill="#fff"/>
<path d="M454.4 682.35L458.35 686.3L454.4 690.25L450.45 686.3Z" fill="#a52139"/>
<path d="M454.2 684.6Q457.8 686.3 454.2 688Z" fill="#fff"/>
<path d="M442.9 691.45L446.85 695.4L442.9 699.35L438.95 695.4Z" fill="#a52139"/>
<path d="M442.7 693.7Q446.3 695.4 442.7 697.1Z" fill="#fff"/>
<path d="M449.6 696.25L453.55 700.2L449.6 704.15L445.65 700.2Z" fill="#a52139"/>
<path d="M449.4 698.5Q453 700.2 449.4 701.9Z" fill="#fff"/>
<path d="M456 696.25L459.95 700.2L456 704.15L452.05 700.2Z" fill="#a52139"/>
<path d="M455.8 698.5Q459.4 700.2 455.8 701.9Z" fill="#fff"/>
<line x1="449.6" y1="685" x2="449.6" y2="700.8" stroke="#1a1a1a" stroke-width="1.05"/>
<line x1="438.45" y1="692.7" x2="460.75" y2="692.7" stroke="#1a1a1a" stroke-width="1.45"/>
<line x1="444.2" y1="685" x2="455" y2="685" stroke="#1a1a1a" stroke-width="1.2"/>
<line x1="444.2" y1="700.8" x2="455" y2="700.8" stroke="#1a1a1a" stroke-width="1.2"/>
<path d="M490 668.95L493.95 672.9L490 676.85L486.05 672.9Z" fill="#3c5e8d"/>
<path d="M489.8 671.2Q493.4 672.9 489.8 674.6Z" fill="#fff"/>
<path d="M476.2 677.95L480.15 681.9L476.2 685.85L472.25 681.9Z" fill="#3c5e8d"/>
<path d="M476 680.2Q479.6 681.9 476 683.6Z" fill="#fff"/>
<path d="M483.3 677.55L487.25 681.5L483.3 685.45L479.35 681.5Z" fill="#3c5e8d"/>
<path d="M483.1 679.8Q486.7 681.5 483.1 683.2Z" fill="#fff"/>
<path d="M488.1 687.25L492.05 691.2L488.1 695.15L484.15 691.2Z" fill="#3c5e8d"/>
<path d="M487.9 689.5Q491.5 691.2 487.9 692.9Z" fill="#fff"/>
<path d="M479 691.45L482.95 695.4L479 699.35L475.05 695.4Z" fill="#3c5e8d"/>
<path d="M478.8 693.7Q482.4 695.4 478.8 697.1Z" fill="#fff"/>
<path d="M485.8 691.45L489.75 695.4L485.8 699.35L481.85 695.4Z" fill="#3c5e8d"/>
<path d="M485.6 693.7Q489.2 695.4 485.6 697.1Z" fill="#fff"/>
<path d="M480.4 696.25L484.35 700.2L480.4 704.15L476.45 700.2Z" fill="#3c5e8d"/>
<path d="M480.2 698.5Q483.8 700.2 480.2 701.9Z" fill="#fff"/>
<line x1="483.3" y1="678.7" x2="483.3" y2="697.9" stroke="#1a1a1a" stroke-width="1.05"/>
<line x1="472.35" y1="688.3" x2="494.25" y2="688.3" stroke="#1a1a1a" stroke-width="1.45"/>
<line x1="478.05" y1="678.7" x2="488.55" y2="678.7" stroke="#1a1a1a" stroke-width="1.2"/>
<line x1="478.05" y1="697.9" x2="488.55" y2="697.9" stroke="#1a1a1a" stroke-width="1.2"/>
<rect x="0" y="0" width="1.85" height="786" fill="#545454"/>
<rect x="0" y="0" width="520" height="1.85" fill="#545454"/>
<rect x="518.8" y="0" width="1.2" height="786" fill="#000"/>
<rect x="0" y="784.7" width="520" height="1.3" fill="#000"/>
</svg></body></html>
